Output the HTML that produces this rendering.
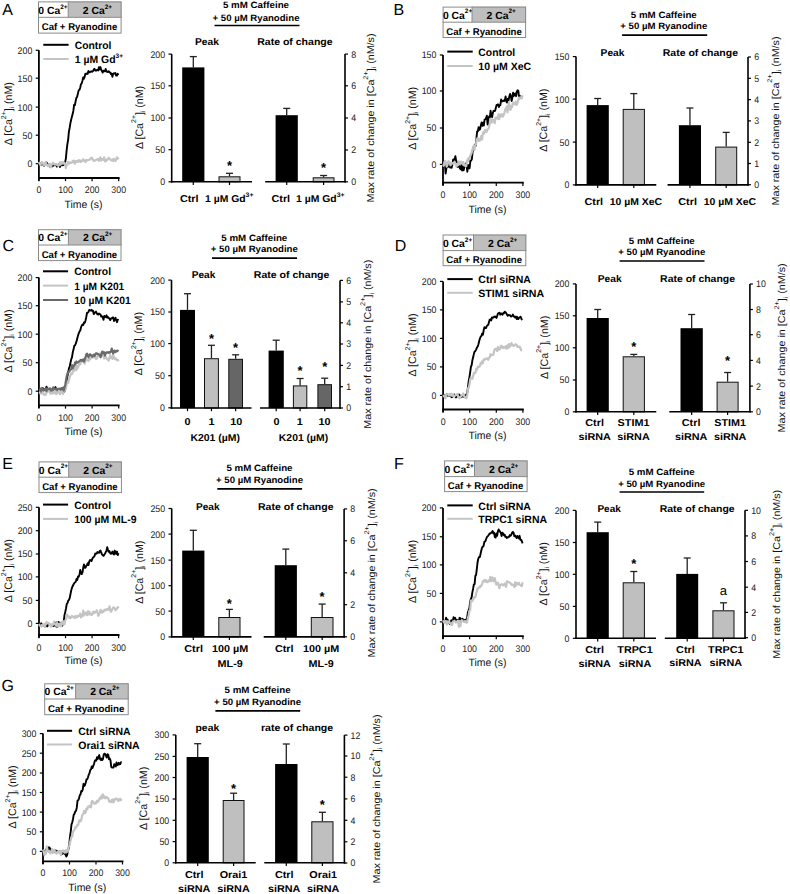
<!DOCTYPE html>
<html><head><meta charset="utf-8"><style>
html,body{margin:0;padding:0;background:#fff;}
svg{display:block;font-family:"Liberation Sans", sans-serif;text-rendering:geometricPrecision;}
</style></head><body>
<svg width="790" height="894" viewBox="0 0 790 894">
<rect width="790" height="894" fill="#fff"/>
<text x="2.20" y="14.60" font-size="16" font-weight="normal" text-anchor="start" fill="#000">A</text>
<rect x="38.00" y="1.40" width="83.60" height="32.20" fill="#fff"/>
<rect x="68.20" y="1.40" width="53.40" height="15.90" fill="#bebebe"/>
<rect x="38.50" y="1.90" width="82.60" height="31.20" fill="none" stroke="#8a8a8a" stroke-width="1"/>
<line x1="38.00" y1="17.30" x2="121.60" y2="17.30" stroke="#8a8a8a" stroke-width="1" stroke-linecap="butt"/>
<line x1="68.20" y1="1.40" x2="68.20" y2="17.30" stroke="#8a8a8a" stroke-width="1" stroke-linecap="butt"/>
<text x="38.30" y="13.70" font-size="10.4" font-weight="bold" text-anchor="start" fill="#000">0 Ca<tspan dy="-5.2" font-size="6.4">2+</tspan></text>
<text x="82.80" y="13.70" font-size="10.4" font-weight="bold" text-anchor="start" fill="#000">2 Ca<tspan dy="-5.2" font-size="6.4">2+</tspan></text>
<text x="79.50" y="30.30" font-size="9.8" font-weight="bold" text-anchor="middle" fill="#000" textLength="75.60" lengthAdjust="spacingAndGlyphs">Caf + Ryanodine</text>
<line x1="43.30" y1="44.80" x2="68.60" y2="44.80" stroke="#000" stroke-width="2.0" stroke-linecap="butt"/>
<text x="74.70" y="48.92" font-size="10.6" font-weight="bold" text-anchor="start" fill="#000" textLength="36.70" lengthAdjust="spacingAndGlyphs">Control</text>
<line x1="43.30" y1="59.00" x2="68.60" y2="59.00" stroke="#c4c4c4" stroke-width="2.0" stroke-linecap="butt"/>
<text x="74.70" y="63.12" font-size="10.6" font-weight="bold" text-anchor="start" fill="#000" textLength="48.30" lengthAdjust="spacingAndGlyphs">1 µM Gd<tspan dy="-4.8" font-size="6.6">3+</tspan></text>
<line x1="35.70" y1="50.30" x2="38.90" y2="50.30" stroke="#000" stroke-width="1.2" stroke-linecap="butt"/>
<text x="32.30" y="53.76" font-size="9.6" font-weight="normal" text-anchor="end" fill="#222" textLength="14.70" lengthAdjust="spacingAndGlyphs">200</text>
<line x1="35.70" y1="78.20" x2="38.90" y2="78.20" stroke="#000" stroke-width="1.2" stroke-linecap="butt"/>
<text x="32.30" y="81.66" font-size="9.6" font-weight="normal" text-anchor="end" fill="#222" textLength="14.70" lengthAdjust="spacingAndGlyphs">150</text>
<line x1="35.70" y1="107.10" x2="38.90" y2="107.10" stroke="#000" stroke-width="1.2" stroke-linecap="butt"/>
<text x="32.30" y="110.56" font-size="9.6" font-weight="normal" text-anchor="end" fill="#222" textLength="14.70" lengthAdjust="spacingAndGlyphs">100</text>
<line x1="35.70" y1="135.20" x2="38.90" y2="135.20" stroke="#000" stroke-width="1.2" stroke-linecap="butt"/>
<text x="32.30" y="138.66" font-size="9.6" font-weight="normal" text-anchor="end" fill="#222" textLength="9.80" lengthAdjust="spacingAndGlyphs">50</text>
<line x1="35.70" y1="163.70" x2="38.90" y2="163.70" stroke="#000" stroke-width="1.2" stroke-linecap="butt"/>
<text x="32.30" y="167.16" font-size="9.6" font-weight="normal" text-anchor="end" fill="#222" textLength="4.90" lengthAdjust="spacingAndGlyphs">0</text>
<line x1="38.90" y1="50.30" x2="38.90" y2="180.80" stroke="#000" stroke-width="1.8" stroke-linecap="butt"/>
<line x1="38.00" y1="178.00" x2="119.60" y2="178.00" stroke="#000" stroke-width="1.8" stroke-linecap="butt"/>
<line x1="38.90" y1="178.00" x2="38.90" y2="181.20" stroke="#000" stroke-width="1.2" stroke-linecap="butt"/>
<text x="38.90" y="193.16" font-size="9.6" font-weight="normal" text-anchor="middle" fill="#222" textLength="4.90" lengthAdjust="spacingAndGlyphs">0</text>
<line x1="65.50" y1="178.00" x2="65.50" y2="181.20" stroke="#000" stroke-width="1.2" stroke-linecap="butt"/>
<text x="65.50" y="193.16" font-size="9.6" font-weight="normal" text-anchor="middle" fill="#222" textLength="14.70" lengthAdjust="spacingAndGlyphs">100</text>
<line x1="92.10" y1="178.00" x2="92.10" y2="181.20" stroke="#000" stroke-width="1.2" stroke-linecap="butt"/>
<text x="92.10" y="193.16" font-size="9.6" font-weight="normal" text-anchor="middle" fill="#222" textLength="14.70" lengthAdjust="spacingAndGlyphs">200</text>
<line x1="118.70" y1="178.00" x2="118.70" y2="181.20" stroke="#000" stroke-width="1.2" stroke-linecap="butt"/>
<text x="118.70" y="193.16" font-size="9.6" font-weight="normal" text-anchor="middle" fill="#222" textLength="14.70" lengthAdjust="spacingAndGlyphs">300</text>
<text x="83.50" y="207.82" font-size="10.6" font-weight="normal" text-anchor="middle" fill="#111" textLength="38.00" lengthAdjust="spacingAndGlyphs">Time (s)</text>
<g transform="translate(12.10 113.65) rotate(-90)"><text x="0" y="0" font-size="10.8" text-anchor="middle" textLength="63.00" lengthAdjust="spacingAndGlyphs" fill="#111">Δ [Ca<tspan dy="-6.6" font-size="7.0">2+</tspan><tspan dy="6.6">]</tspan><tspan dy="2.2" font-size="6.4">i</tspan><tspan dy="-2.2"> (nM)</tspan></text></g>
<path d="M38.90,162.11 L39.65,163.53 L40.40,163.40 L41.15,163.21 L41.90,164.70 L42.65,164.19 L43.40,163.75 L44.15,165.83 L44.90,164.03 L45.65,162.83 L46.40,162.46 L47.15,163.29 L47.90,164.76 L48.65,165.38 L49.40,165.87 L50.15,166.76 L50.90,166.84 L51.65,165.77 L52.40,166.22 L53.15,165.64 L53.90,164.24 L54.65,165.33 L55.40,164.82 L56.15,164.41 L56.90,166.60 L57.65,165.88 L58.40,164.40 L59.15,164.45 L59.90,166.97 L60.65,164.85 L61.40,165.28 L62.15,165.21 L62.90,165.03 L63.65,165.00 L64.40,163.82 L65.15,162.15 L65.90,158.32 L66.65,150.09 L67.40,144.18 L68.15,139.57 L68.90,131.62 L69.65,127.94 L70.40,123.17 L71.15,119.72 L71.90,116.86 L72.65,114.08 L73.40,110.38 L74.15,104.75 L74.90,105.08 L75.65,100.99 L76.40,97.74 L77.15,96.82 L77.90,93.64 L78.65,90.37 L79.40,89.94 L80.15,88.00 L80.90,84.40 L81.65,83.44 L82.40,80.92 L83.15,77.45 L83.90,78.81 L84.65,76.66 L85.40,73.73 L86.15,74.04 L86.90,73.45 L87.65,73.77 L88.40,71.01 L89.15,72.40 L89.90,72.23 L90.65,71.63 L91.40,71.29 L92.15,71.78 L92.90,71.12 L93.65,70.18 L94.40,68.78 L95.15,70.35 L95.90,70.71 L96.65,70.12 L97.40,69.86 L98.15,70.43 L98.90,67.23 L99.65,69.43 L100.40,67.08 L101.15,69.52 L101.90,71.16 L102.65,72.61 L103.40,70.66 L104.15,71.28 L104.90,71.08 L105.65,68.95 L106.40,71.66 L107.15,71.73 L107.90,72.00 L108.65,71.17 L109.40,72.04 L110.15,72.53 L110.90,74.04 L111.65,73.53 L112.40,76.89 L113.15,73.80 L113.90,73.32 L114.65,73.56 L115.40,73.08 L116.15,75.62 L116.90,75.58 L117.65,73.80 L118.40,75.03" fill="none" stroke="#000" stroke-width="1.9" stroke-linejoin="round"/>
<path d="M38.90,162.06 L39.65,163.73 L40.40,164.96 L41.15,163.40 L41.90,162.01 L42.65,163.29 L43.40,164.32 L44.15,165.40 L44.90,162.78 L45.65,162.06 L46.40,164.43 L47.15,164.76 L47.90,166.21 L48.65,165.91 L49.40,164.50 L50.15,163.96 L50.90,167.44 L51.65,164.74 L52.40,163.47 L53.15,162.74 L53.90,164.15 L54.65,164.59 L55.40,164.07 L56.15,164.26 L56.90,164.70 L57.65,165.31 L58.40,165.95 L59.15,164.96 L59.90,162.17 L60.65,164.58 L61.40,162.48 L62.15,163.50 L62.90,162.09 L63.65,163.57 L64.40,162.92 L65.15,163.95 L65.90,167.93 L66.65,164.56 L67.40,164.69 L68.15,161.85 L68.90,162.31 L69.65,163.47 L70.40,162.67 L71.15,162.91 L71.90,162.49 L72.65,160.84 L73.40,162.26 L74.15,160.74 L74.90,163.60 L75.65,161.17 L76.40,161.93 L77.15,161.11 L77.90,161.96 L78.65,160.07 L79.40,161.57 L80.15,160.48 L80.90,161.89 L81.65,161.38 L82.40,160.58 L83.15,159.16 L83.90,160.70 L84.65,160.64 L85.40,162.05 L86.15,159.80 L86.90,160.35 L87.65,160.37 L88.40,160.03 L89.15,159.79 L89.90,159.64 L90.65,158.56 L91.40,157.70 L92.15,158.21 L92.90,159.52 L93.65,160.94 L94.40,160.56 L95.15,160.49 L95.90,160.06 L96.65,159.79 L97.40,159.01 L98.15,159.49 L98.90,160.81 L99.65,158.42 L100.40,157.30 L101.15,160.41 L101.90,159.09 L102.65,159.72 L103.40,159.81 L104.15,157.35 L104.90,161.28 L105.65,161.49 L106.40,159.57 L107.15,159.87 L107.90,159.21 L108.65,157.82 L109.40,158.49 L110.15,159.32 L110.90,160.51 L111.65,160.35 L112.40,159.54 L113.15,161.02 L113.90,158.77 L114.65,160.22 L115.40,161.03 L116.15,159.52 L116.90,157.30 L117.65,157.91 L118.40,159.55" fill="none" stroke="#c4c4c4" stroke-width="2.2" stroke-linejoin="round"/>
<text x="256.00" y="8.41" font-size="9.2" font-weight="bold" text-anchor="middle" fill="#000" textLength="66.00" lengthAdjust="spacingAndGlyphs">5 mM Caffeine</text>
<text x="256.00" y="20.51" font-size="9.2" font-weight="bold" text-anchor="middle" fill="#000" textLength="87.00" lengthAdjust="spacingAndGlyphs">+ 50 µM Ryanodine</text>
<line x1="214.50" y1="25.50" x2="299.50" y2="25.50" stroke="#000" stroke-width="1.7" stroke-linecap="butt"/>
<text x="206.95" y="44.93" font-size="9.8" font-weight="bold" text-anchor="middle" fill="#000" textLength="23.90" lengthAdjust="spacingAndGlyphs">Peak</text>
<text x="294.90" y="44.53" font-size="9.8" font-weight="bold" text-anchor="middle" fill="#000" textLength="75.40" lengthAdjust="spacingAndGlyphs">Rate of change</text>
<line x1="168.50" y1="54.10" x2="171.70" y2="54.10" stroke="#000" stroke-width="1.2" stroke-linecap="butt"/>
<text x="165.10" y="57.56" font-size="9.6" font-weight="normal" text-anchor="end" fill="#222" textLength="14.70" lengthAdjust="spacingAndGlyphs">200</text>
<line x1="168.50" y1="85.80" x2="171.70" y2="85.80" stroke="#000" stroke-width="1.2" stroke-linecap="butt"/>
<text x="165.10" y="89.26" font-size="9.6" font-weight="normal" text-anchor="end" fill="#222" textLength="14.70" lengthAdjust="spacingAndGlyphs">150</text>
<line x1="168.50" y1="118.00" x2="171.70" y2="118.00" stroke="#000" stroke-width="1.2" stroke-linecap="butt"/>
<text x="165.10" y="121.46" font-size="9.6" font-weight="normal" text-anchor="end" fill="#222" textLength="14.70" lengthAdjust="spacingAndGlyphs">100</text>
<line x1="168.50" y1="149.70" x2="171.70" y2="149.70" stroke="#000" stroke-width="1.2" stroke-linecap="butt"/>
<text x="165.10" y="153.16" font-size="9.6" font-weight="normal" text-anchor="end" fill="#222" textLength="9.80" lengthAdjust="spacingAndGlyphs">50</text>
<line x1="168.50" y1="181.80" x2="171.70" y2="181.80" stroke="#000" stroke-width="1.2" stroke-linecap="butt"/>
<text x="165.10" y="185.26" font-size="9.6" font-weight="normal" text-anchor="end" fill="#222" textLength="4.90" lengthAdjust="spacingAndGlyphs">0</text>
<line x1="193.30" y1="56.60" x2="193.30" y2="67.40" stroke="#222" stroke-width="1.3" stroke-linecap="butt"/>
<line x1="189.80" y1="56.60" x2="196.80" y2="56.60" stroke="#222" stroke-width="1.3" stroke-linecap="butt"/>
<rect x="182.20" y="67.40" width="22.20" height="114.40" fill="#000"/>
<line x1="193.30" y1="181.80" x2="193.30" y2="185.00" stroke="#000" stroke-width="1.2" stroke-linecap="butt"/>
<line x1="229.50" y1="173.30" x2="229.50" y2="176.30" stroke="#222" stroke-width="1.3" stroke-linecap="butt"/>
<line x1="226.00" y1="173.30" x2="233.00" y2="173.30" stroke="#222" stroke-width="1.3" stroke-linecap="butt"/>
<rect x="219.00" y="176.80" width="21.00" height="5.00" fill="#bfbfbf" stroke="#111" stroke-width="1"/>
<text x="229.50" y="169.58" font-size="13" font-weight="bold" text-anchor="middle" fill="#000">*</text>
<line x1="229.50" y1="181.80" x2="229.50" y2="185.00" stroke="#000" stroke-width="1.2" stroke-linecap="butt"/>
<line x1="171.70" y1="54.10" x2="171.70" y2="182.60" stroke="#000" stroke-width="1.6" stroke-linecap="butt"/>
<line x1="170.90" y1="181.80" x2="252.00" y2="181.80" stroke="#000" stroke-width="1.6" stroke-linecap="butt"/>
<line x1="345.00" y1="54.10" x2="348.00" y2="54.10" stroke="#000" stroke-width="1.2" stroke-linecap="butt"/>
<text x="351.20" y="57.56" font-size="9.6" font-weight="normal" text-anchor="start" fill="#222" textLength="4.90" lengthAdjust="spacingAndGlyphs">8</text>
<line x1="345.00" y1="85.80" x2="348.00" y2="85.80" stroke="#000" stroke-width="1.2" stroke-linecap="butt"/>
<text x="351.20" y="89.26" font-size="9.6" font-weight="normal" text-anchor="start" fill="#222" textLength="4.90" lengthAdjust="spacingAndGlyphs">6</text>
<line x1="345.00" y1="118.00" x2="348.00" y2="118.00" stroke="#000" stroke-width="1.2" stroke-linecap="butt"/>
<text x="351.20" y="121.46" font-size="9.6" font-weight="normal" text-anchor="start" fill="#222" textLength="4.90" lengthAdjust="spacingAndGlyphs">4</text>
<line x1="345.00" y1="150.00" x2="348.00" y2="150.00" stroke="#000" stroke-width="1.2" stroke-linecap="butt"/>
<text x="351.20" y="153.46" font-size="9.6" font-weight="normal" text-anchor="start" fill="#222" textLength="4.90" lengthAdjust="spacingAndGlyphs">2</text>
<line x1="345.00" y1="181.80" x2="348.00" y2="181.80" stroke="#000" stroke-width="1.2" stroke-linecap="butt"/>
<text x="351.20" y="185.26" font-size="9.6" font-weight="normal" text-anchor="start" fill="#222" textLength="4.90" lengthAdjust="spacingAndGlyphs">0</text>
<line x1="286.70" y1="108.40" x2="286.70" y2="115.20" stroke="#222" stroke-width="1.3" stroke-linecap="butt"/>
<line x1="283.20" y1="108.40" x2="290.20" y2="108.40" stroke="#222" stroke-width="1.3" stroke-linecap="butt"/>
<rect x="275.60" y="115.20" width="22.20" height="66.60" fill="#000"/>
<line x1="286.70" y1="181.80" x2="286.70" y2="185.00" stroke="#000" stroke-width="1.2" stroke-linecap="butt"/>
<line x1="323.60" y1="175.50" x2="323.60" y2="177.30" stroke="#222" stroke-width="1.3" stroke-linecap="butt"/>
<line x1="320.10" y1="175.50" x2="327.10" y2="175.50" stroke="#222" stroke-width="1.3" stroke-linecap="butt"/>
<rect x="313.20" y="177.80" width="20.80" height="4.00" fill="#bfbfbf" stroke="#111" stroke-width="1"/>
<text x="323.60" y="172.38" font-size="13" font-weight="bold" text-anchor="middle" fill="#000">*</text>
<line x1="323.60" y1="181.80" x2="323.60" y2="185.00" stroke="#000" stroke-width="1.2" stroke-linecap="butt"/>
<line x1="345.00" y1="54.10" x2="345.00" y2="182.60" stroke="#000" stroke-width="1.6" stroke-linecap="butt"/>
<line x1="265.20" y1="181.80" x2="345.80" y2="181.80" stroke="#000" stroke-width="1.6" stroke-linecap="butt"/>
<text x="189.20" y="201.60" font-size="10" font-weight="bold" text-anchor="middle" fill="#000" textLength="18.60" lengthAdjust="spacingAndGlyphs">Ctrl</text>
<text x="229.20" y="201.60" font-size="10" font-weight="bold" text-anchor="middle" fill="#000" textLength="48.40" lengthAdjust="spacingAndGlyphs">1 µM Gd<tspan dy="-4.8" font-size="6.6">3+</tspan></text>
<text x="280.80" y="201.60" font-size="10" font-weight="bold" text-anchor="middle" fill="#000" textLength="18.60" lengthAdjust="spacingAndGlyphs">Ctrl</text>
<text x="320.30" y="201.60" font-size="10" font-weight="bold" text-anchor="middle" fill="#000" textLength="48.40" lengthAdjust="spacingAndGlyphs">1 µM Gd<tspan dy="-4.8" font-size="6.6">3+</tspan></text>
<g transform="translate(142.80 117.45) rotate(-90)"><text x="0" y="0" font-size="10.8" text-anchor="middle" textLength="63.20" lengthAdjust="spacingAndGlyphs" fill="#111">Δ [Ca<tspan dy="-6.6" font-size="7.0">2+</tspan><tspan dy="6.6">]</tspan><tspan dy="2.2" font-size="6.4">i</tspan><tspan dy="-2.2"> (nM)</tspan></text></g>
<g transform="translate(374.10 117.95) rotate(-90)"><text x="0" y="0" font-size="10.0" text-anchor="middle" textLength="169.00" lengthAdjust="spacingAndGlyphs" fill="#111">Max rate of change in [Ca<tspan dy="-6.4" font-size="6.8">2+</tspan><tspan dy="6.4">]</tspan><tspan dy="2.2" font-size="6.4">i</tspan><tspan dy="-2.2"> (nM/s)</tspan></text></g>
<text x="393.60" y="14.60" font-size="16" font-weight="normal" text-anchor="start" fill="#000">B</text>
<rect x="442.60" y="6.60" width="83.50" height="31.40" fill="#fff"/>
<rect x="472.00" y="6.60" width="54.10" height="15.60" fill="#bebebe"/>
<rect x="443.10" y="7.10" width="82.50" height="30.40" fill="none" stroke="#8a8a8a" stroke-width="1"/>
<line x1="442.60" y1="22.20" x2="526.10" y2="22.20" stroke="#8a8a8a" stroke-width="1" stroke-linecap="butt"/>
<line x1="472.00" y1="6.60" x2="472.00" y2="22.20" stroke="#8a8a8a" stroke-width="1" stroke-linecap="butt"/>
<text x="442.90" y="18.60" font-size="10.4" font-weight="bold" text-anchor="start" fill="#000">0 Ca<tspan dy="-5.2" font-size="6.4">2+</tspan></text>
<text x="486.60" y="18.60" font-size="10.4" font-weight="bold" text-anchor="start" fill="#000">2 Ca<tspan dy="-5.2" font-size="6.4">2+</tspan></text>
<text x="484.05" y="34.70" font-size="9.8" font-weight="bold" text-anchor="middle" fill="#000" textLength="75.50" lengthAdjust="spacingAndGlyphs">Caf + Ryanodine</text>
<line x1="447.30" y1="51.60" x2="472.70" y2="51.60" stroke="#000" stroke-width="2.0" stroke-linecap="butt"/>
<text x="478.30" y="55.72" font-size="10.6" font-weight="bold" text-anchor="start" fill="#000" textLength="36.90" lengthAdjust="spacingAndGlyphs">Control</text>
<line x1="447.30" y1="66.00" x2="472.70" y2="66.00" stroke="#c4c4c4" stroke-width="2.0" stroke-linecap="butt"/>
<text x="478.30" y="70.12" font-size="10.6" font-weight="bold" text-anchor="start" fill="#000" textLength="52.90" lengthAdjust="spacingAndGlyphs">10 µM XeC</text>
<line x1="439.80" y1="55.00" x2="443.00" y2="55.00" stroke="#000" stroke-width="1.2" stroke-linecap="butt"/>
<text x="436.40" y="58.46" font-size="9.6" font-weight="normal" text-anchor="end" fill="#222" textLength="14.70" lengthAdjust="spacingAndGlyphs">150</text>
<line x1="439.80" y1="91.00" x2="443.00" y2="91.00" stroke="#000" stroke-width="1.2" stroke-linecap="butt"/>
<text x="436.40" y="94.46" font-size="9.6" font-weight="normal" text-anchor="end" fill="#222" textLength="14.70" lengthAdjust="spacingAndGlyphs">100</text>
<line x1="439.80" y1="128.00" x2="443.00" y2="128.00" stroke="#000" stroke-width="1.2" stroke-linecap="butt"/>
<text x="436.40" y="131.46" font-size="9.6" font-weight="normal" text-anchor="end" fill="#222" textLength="9.80" lengthAdjust="spacingAndGlyphs">50</text>
<line x1="439.80" y1="164.40" x2="443.00" y2="164.40" stroke="#000" stroke-width="1.2" stroke-linecap="butt"/>
<text x="436.40" y="167.86" font-size="9.6" font-weight="normal" text-anchor="end" fill="#222" textLength="4.90" lengthAdjust="spacingAndGlyphs">0</text>
<line x1="443.00" y1="55.00" x2="443.00" y2="185.50" stroke="#000" stroke-width="1.8" stroke-linecap="butt"/>
<line x1="442.10" y1="182.70" x2="523.80" y2="182.70" stroke="#000" stroke-width="1.8" stroke-linecap="butt"/>
<line x1="443.00" y1="182.70" x2="443.00" y2="185.90" stroke="#000" stroke-width="1.2" stroke-linecap="butt"/>
<text x="443.00" y="197.86" font-size="9.6" font-weight="normal" text-anchor="middle" fill="#222" textLength="4.90" lengthAdjust="spacingAndGlyphs">0</text>
<line x1="469.63" y1="182.70" x2="469.63" y2="185.90" stroke="#000" stroke-width="1.2" stroke-linecap="butt"/>
<text x="469.63" y="197.86" font-size="9.6" font-weight="normal" text-anchor="middle" fill="#222" textLength="14.70" lengthAdjust="spacingAndGlyphs">100</text>
<line x1="496.27" y1="182.70" x2="496.27" y2="185.90" stroke="#000" stroke-width="1.2" stroke-linecap="butt"/>
<text x="496.27" y="197.86" font-size="9.6" font-weight="normal" text-anchor="middle" fill="#222" textLength="14.70" lengthAdjust="spacingAndGlyphs">200</text>
<line x1="522.90" y1="182.70" x2="522.90" y2="185.90" stroke="#000" stroke-width="1.2" stroke-linecap="butt"/>
<text x="522.90" y="197.86" font-size="9.6" font-weight="normal" text-anchor="middle" fill="#222" textLength="14.70" lengthAdjust="spacingAndGlyphs">300</text>
<text x="487.50" y="212.52" font-size="10.6" font-weight="normal" text-anchor="middle" fill="#111" textLength="38.00" lengthAdjust="spacingAndGlyphs">Time (s)</text>
<g transform="translate(416.20 118.35) rotate(-90)"><text x="0" y="0" font-size="10.8" text-anchor="middle" textLength="63.00" lengthAdjust="spacingAndGlyphs" fill="#111">Δ [Ca<tspan dy="-6.6" font-size="7.0">2+</tspan><tspan dy="6.6">]</tspan><tspan dy="2.2" font-size="6.4">i</tspan><tspan dy="-2.2"> (nM)</tspan></text></g>
<path d="M444.10,165.04 L444.85,164.05 L445.60,173.53 L446.35,168.45 L447.10,166.62 L447.85,167.11 L448.60,164.98 L449.35,164.19 L450.10,167.58 L450.85,165.62 L451.60,167.79 L452.35,165.11 L453.10,159.75 L453.85,159.13 L454.60,159.67 L455.35,156.28 L456.10,160.72 L456.85,162.40 L457.60,166.94 L458.35,164.16 L459.10,165.86 L459.85,168.23 L460.60,169.30 L461.35,164.94 L462.10,170.64 L462.85,166.42 L463.60,170.24 L464.35,167.27 L465.10,166.26 L465.85,163.42 L466.60,165.11 L467.35,171.71 L468.10,164.84 L468.85,168.39 L469.60,168.23 L470.35,160.80 L471.10,160.69 L471.85,159.13 L472.60,152.01 L473.35,147.45 L474.10,148.51 L474.85,144.59 L475.60,146.01 L476.35,139.61 L477.10,131.52 L477.85,131.45 L478.60,127.12 L479.35,129.87 L480.10,129.13 L480.85,125.31 L481.60,122.49 L482.35,125.86 L483.10,122.66 L483.85,125.46 L484.60,119.64 L485.35,119.41 L486.10,117.97 L486.85,115.67 L487.60,124.53 L488.35,123.41 L489.10,116.42 L489.85,117.88 L490.60,110.79 L491.35,116.55 L492.10,116.98 L492.85,112.72 L493.60,110.79 L494.35,111.06 L495.10,110.86 L495.85,107.81 L496.60,104.93 L497.35,104.99 L498.10,104.32 L498.85,106.99 L499.60,105.44 L500.35,105.07 L501.10,99.55 L501.85,101.20 L502.60,101.21 L503.35,100.50 L504.10,101.01 L504.85,100.28 L505.60,96.47 L506.35,101.69 L507.10,102.57 L507.85,98.60 L508.60,100.27 L509.35,96.18 L510.10,93.93 L510.85,95.99 L511.60,100.95 L512.35,97.56 L513.10,92.70 L513.85,95.96 L514.60,94.39 L515.35,93.38 L516.10,96.18 L516.85,91.43 L517.60,90.24 L518.35,90.95 L519.10,98.01 L519.85,97.27 L520.60,95.34" fill="none" stroke="#000" stroke-width="1.9" stroke-linejoin="round"/>
<path d="M443.00,164.21 L443.75,165.81 L444.50,161.99 L445.25,160.89 L446.00,163.23 L446.75,166.69 L447.50,164.91 L448.25,161.33 L449.00,161.30 L449.75,162.83 L450.50,165.32 L451.25,164.05 L452.00,163.08 L452.75,163.14 L453.50,163.85 L454.25,162.09 L455.00,163.08 L455.75,163.79 L456.50,166.68 L457.25,163.87 L458.00,165.17 L458.75,161.37 L459.50,164.17 L460.25,163.37 L461.00,161.68 L461.75,162.22 L462.50,164.15 L463.25,162.07 L464.00,164.21 L464.75,165.67 L465.50,166.16 L466.25,166.20 L467.00,160.27 L467.75,161.42 L468.50,158.04 L469.25,159.18 L470.00,156.38 L470.75,154.67 L471.50,153.43 L472.25,149.68 L473.00,148.84 L473.75,145.67 L474.50,149.86 L475.25,145.04 L476.00,144.05 L476.75,139.44 L477.50,138.12 L478.25,138.35 L479.00,140.97 L479.75,140.83 L480.50,139.05 L481.25,135.99 L482.00,139.54 L482.75,133.84 L483.50,132.01 L484.25,133.53 L485.00,130.15 L485.75,131.13 L486.50,132.05 L487.25,129.50 L488.00,129.17 L488.75,127.67 L489.50,125.17 L490.25,118.80 L491.00,120.51 L491.75,122.73 L492.50,119.29 L493.25,120.00 L494.00,121.21 L494.75,123.24 L495.50,117.69 L496.25,117.44 L497.00,118.36 L497.75,118.64 L498.50,114.26 L499.25,119.20 L500.00,114.52 L500.75,116.78 L501.50,114.25 L502.25,114.39 L503.00,116.53 L503.75,114.65 L504.50,112.53 L505.25,109.22 L506.00,108.64 L506.75,106.45 L507.50,112.47 L508.25,106.21 L509.00,102.09 L509.75,109.22 L510.50,109.79 L511.25,106.12 L512.00,107.18 L512.75,103.59 L513.50,102.73 L514.25,104.25 L515.00,103.95 L515.75,101.66 L516.50,104.88 L517.25,103.41 L518.00,101.35 L518.75,97.63 L519.50,98.80 L520.25,97.59 L521.00,97.20 L521.75,98.33 L522.50,95.21" fill="none" stroke="#c4c4c4" stroke-width="2.2" stroke-linejoin="round"/>
<text x="663.80" y="17.51" font-size="9.2" font-weight="bold" text-anchor="middle" fill="#000" textLength="66.00" lengthAdjust="spacingAndGlyphs">5 mM Caffeine</text>
<text x="663.80" y="29.01" font-size="9.2" font-weight="bold" text-anchor="middle" fill="#000" textLength="87.00" lengthAdjust="spacingAndGlyphs">+ 50 µM Ryanodine</text>
<line x1="622.10" y1="35.20" x2="707.20" y2="35.20" stroke="#000" stroke-width="1.7" stroke-linecap="butt"/>
<text x="612.50" y="55.73" font-size="9.8" font-weight="bold" text-anchor="middle" fill="#000" textLength="23.80" lengthAdjust="spacingAndGlyphs">Peak</text>
<text x="700.40" y="55.83" font-size="9.8" font-weight="bold" text-anchor="middle" fill="#000" textLength="75.20" lengthAdjust="spacingAndGlyphs">Rate of change</text>
<line x1="572.80" y1="56.60" x2="576.00" y2="56.60" stroke="#000" stroke-width="1.2" stroke-linecap="butt"/>
<text x="569.40" y="60.06" font-size="9.6" font-weight="normal" text-anchor="end" fill="#222" textLength="14.70" lengthAdjust="spacingAndGlyphs">150</text>
<line x1="572.80" y1="99.10" x2="576.00" y2="99.10" stroke="#000" stroke-width="1.2" stroke-linecap="butt"/>
<text x="569.40" y="102.56" font-size="9.6" font-weight="normal" text-anchor="end" fill="#222" textLength="14.70" lengthAdjust="spacingAndGlyphs">100</text>
<line x1="572.80" y1="142.10" x2="576.00" y2="142.10" stroke="#000" stroke-width="1.2" stroke-linecap="butt"/>
<text x="569.40" y="145.56" font-size="9.6" font-weight="normal" text-anchor="end" fill="#222" textLength="9.80" lengthAdjust="spacingAndGlyphs">50</text>
<line x1="572.80" y1="184.90" x2="576.00" y2="184.90" stroke="#000" stroke-width="1.2" stroke-linecap="butt"/>
<text x="569.40" y="188.36" font-size="9.6" font-weight="normal" text-anchor="end" fill="#222" textLength="4.90" lengthAdjust="spacingAndGlyphs">0</text>
<line x1="597.70" y1="98.50" x2="597.70" y2="105.10" stroke="#222" stroke-width="1.3" stroke-linecap="butt"/>
<line x1="594.20" y1="98.50" x2="601.20" y2="98.50" stroke="#222" stroke-width="1.3" stroke-linecap="butt"/>
<rect x="586.60" y="105.10" width="22.20" height="79.80" fill="#000"/>
<line x1="597.70" y1="184.90" x2="597.70" y2="188.10" stroke="#000" stroke-width="1.2" stroke-linecap="butt"/>
<line x1="633.80" y1="93.60" x2="633.80" y2="108.90" stroke="#222" stroke-width="1.3" stroke-linecap="butt"/>
<line x1="630.30" y1="93.60" x2="637.30" y2="93.60" stroke="#222" stroke-width="1.3" stroke-linecap="butt"/>
<rect x="623.20" y="109.40" width="21.20" height="75.50" fill="#bfbfbf" stroke="#111" stroke-width="1"/>
<line x1="633.80" y1="184.90" x2="633.80" y2="188.10" stroke="#000" stroke-width="1.2" stroke-linecap="butt"/>
<line x1="576.00" y1="56.60" x2="576.00" y2="185.70" stroke="#000" stroke-width="1.6" stroke-linecap="butt"/>
<line x1="575.20" y1="184.90" x2="656.30" y2="184.90" stroke="#000" stroke-width="1.6" stroke-linecap="butt"/>
<line x1="748.00" y1="57.00" x2="751.00" y2="57.00" stroke="#000" stroke-width="1.2" stroke-linecap="butt"/>
<text x="754.20" y="60.46" font-size="9.6" font-weight="normal" text-anchor="start" fill="#222" textLength="4.90" lengthAdjust="spacingAndGlyphs">6</text>
<line x1="748.00" y1="78.30" x2="751.00" y2="78.30" stroke="#000" stroke-width="1.2" stroke-linecap="butt"/>
<text x="754.20" y="81.76" font-size="9.6" font-weight="normal" text-anchor="start" fill="#222" textLength="4.90" lengthAdjust="spacingAndGlyphs">5</text>
<line x1="748.00" y1="99.60" x2="751.00" y2="99.60" stroke="#000" stroke-width="1.2" stroke-linecap="butt"/>
<text x="754.20" y="103.06" font-size="9.6" font-weight="normal" text-anchor="start" fill="#222" textLength="4.90" lengthAdjust="spacingAndGlyphs">4</text>
<line x1="748.00" y1="120.90" x2="751.00" y2="120.90" stroke="#000" stroke-width="1.2" stroke-linecap="butt"/>
<text x="754.20" y="124.36" font-size="9.6" font-weight="normal" text-anchor="start" fill="#222" textLength="4.90" lengthAdjust="spacingAndGlyphs">3</text>
<line x1="748.00" y1="142.30" x2="751.00" y2="142.30" stroke="#000" stroke-width="1.2" stroke-linecap="butt"/>
<text x="754.20" y="145.76" font-size="9.6" font-weight="normal" text-anchor="start" fill="#222" textLength="4.90" lengthAdjust="spacingAndGlyphs">2</text>
<line x1="748.00" y1="163.50" x2="751.00" y2="163.50" stroke="#000" stroke-width="1.2" stroke-linecap="butt"/>
<text x="754.20" y="166.96" font-size="9.6" font-weight="normal" text-anchor="start" fill="#222" textLength="4.90" lengthAdjust="spacingAndGlyphs">1</text>
<line x1="748.00" y1="184.70" x2="751.00" y2="184.70" stroke="#000" stroke-width="1.2" stroke-linecap="butt"/>
<text x="754.20" y="188.16" font-size="9.6" font-weight="normal" text-anchor="start" fill="#222" textLength="4.90" lengthAdjust="spacingAndGlyphs">0</text>
<line x1="689.95" y1="108.00" x2="689.95" y2="125.20" stroke="#222" stroke-width="1.3" stroke-linecap="butt"/>
<line x1="686.45" y1="108.00" x2="693.45" y2="108.00" stroke="#222" stroke-width="1.3" stroke-linecap="butt"/>
<rect x="678.90" y="125.20" width="22.10" height="59.70" fill="#000"/>
<line x1="689.95" y1="184.90" x2="689.95" y2="188.10" stroke="#000" stroke-width="1.2" stroke-linecap="butt"/>
<line x1="726.20" y1="132.40" x2="726.20" y2="146.60" stroke="#222" stroke-width="1.3" stroke-linecap="butt"/>
<line x1="722.70" y1="132.40" x2="729.70" y2="132.40" stroke="#222" stroke-width="1.3" stroke-linecap="butt"/>
<rect x="715.70" y="147.10" width="21.00" height="37.80" fill="#bfbfbf" stroke="#111" stroke-width="1"/>
<line x1="726.20" y1="184.90" x2="726.20" y2="188.10" stroke="#000" stroke-width="1.2" stroke-linecap="butt"/>
<line x1="748.00" y1="57.00" x2="748.00" y2="185.70" stroke="#000" stroke-width="1.6" stroke-linecap="butt"/>
<line x1="667.60" y1="184.90" x2="748.80" y2="184.90" stroke="#000" stroke-width="1.6" stroke-linecap="butt"/>
<text x="593.80" y="205.20" font-size="10" font-weight="bold" text-anchor="middle" fill="#000" textLength="18.60" lengthAdjust="spacingAndGlyphs">Ctrl</text>
<text x="635.90" y="205.20" font-size="10" font-weight="bold" text-anchor="middle" fill="#000" textLength="52.30" lengthAdjust="spacingAndGlyphs">10 µM XeC</text>
<text x="687.60" y="205.20" font-size="10" font-weight="bold" text-anchor="middle" fill="#000" textLength="18.60" lengthAdjust="spacingAndGlyphs">Ctrl</text>
<text x="729.90" y="205.20" font-size="10" font-weight="bold" text-anchor="middle" fill="#000" textLength="52.30" lengthAdjust="spacingAndGlyphs">10 µM XeC</text>
<g transform="translate(547.40 120.25) rotate(-90)"><text x="0" y="0" font-size="10.8" text-anchor="middle" textLength="63.20" lengthAdjust="spacingAndGlyphs" fill="#111">Δ [Ca<tspan dy="-6.6" font-size="7.0">2+</tspan><tspan dy="6.6">]</tspan><tspan dy="2.2" font-size="6.4">i</tspan><tspan dy="-2.2"> (nM)</tspan></text></g>
<g transform="translate(778.60 120.95) rotate(-90)"><text x="0" y="0" font-size="10.0" text-anchor="middle" textLength="169.00" lengthAdjust="spacingAndGlyphs" fill="#111">Max rate of change in [Ca<tspan dy="-6.4" font-size="6.8">2+</tspan><tspan dy="6.4">]</tspan><tspan dy="2.2" font-size="6.4">i</tspan><tspan dy="-2.2"> (nM/s)</tspan></text></g>
<text x="2.60" y="250.60" font-size="16" font-weight="normal" text-anchor="start" fill="#000">C</text>
<rect x="38.00" y="229.20" width="83.50" height="31.90" fill="#fff"/>
<rect x="68.40" y="229.20" width="53.10" height="15.80" fill="#bebebe"/>
<rect x="38.50" y="229.70" width="82.50" height="30.90" fill="none" stroke="#8a8a8a" stroke-width="1"/>
<line x1="38.00" y1="245.00" x2="121.50" y2="245.00" stroke="#8a8a8a" stroke-width="1" stroke-linecap="butt"/>
<line x1="68.40" y1="229.20" x2="68.40" y2="245.00" stroke="#8a8a8a" stroke-width="1" stroke-linecap="butt"/>
<text x="38.30" y="241.40" font-size="10.4" font-weight="bold" text-anchor="start" fill="#000">0 Ca<tspan dy="-5.2" font-size="6.4">2+</tspan></text>
<text x="83.00" y="241.40" font-size="10.4" font-weight="bold" text-anchor="start" fill="#000">2 Ca<tspan dy="-5.2" font-size="6.4">2+</tspan></text>
<text x="79.45" y="257.80" font-size="9.8" font-weight="bold" text-anchor="middle" fill="#000" textLength="75.50" lengthAdjust="spacingAndGlyphs">Caf + Ryanodine</text>
<line x1="43.00" y1="271.30" x2="68.10" y2="271.30" stroke="#000" stroke-width="2.0" stroke-linecap="butt"/>
<text x="74.20" y="275.42" font-size="10.6" font-weight="bold" text-anchor="start" fill="#000" textLength="36.90" lengthAdjust="spacingAndGlyphs">Control</text>
<line x1="43.00" y1="285.60" x2="68.10" y2="285.60" stroke="#c4c4c4" stroke-width="2.0" stroke-linecap="butt"/>
<text x="74.20" y="289.72" font-size="10.6" font-weight="bold" text-anchor="start" fill="#000" textLength="50.10" lengthAdjust="spacingAndGlyphs">1 µM K201</text>
<line x1="43.00" y1="300.00" x2="68.10" y2="300.00" stroke="#6a6a6a" stroke-width="2.0" stroke-linecap="butt"/>
<text x="74.20" y="304.12" font-size="10.6" font-weight="bold" text-anchor="start" fill="#000" textLength="56.70" lengthAdjust="spacingAndGlyphs">10 µM K201</text>
<line x1="35.70" y1="277.60" x2="38.90" y2="277.60" stroke="#000" stroke-width="1.2" stroke-linecap="butt"/>
<text x="32.30" y="281.06" font-size="9.6" font-weight="normal" text-anchor="end" fill="#222" textLength="14.70" lengthAdjust="spacingAndGlyphs">200</text>
<line x1="35.70" y1="305.70" x2="38.90" y2="305.70" stroke="#000" stroke-width="1.2" stroke-linecap="butt"/>
<text x="32.30" y="309.16" font-size="9.6" font-weight="normal" text-anchor="end" fill="#222" textLength="14.70" lengthAdjust="spacingAndGlyphs">150</text>
<line x1="35.70" y1="334.20" x2="38.90" y2="334.20" stroke="#000" stroke-width="1.2" stroke-linecap="butt"/>
<text x="32.30" y="337.66" font-size="9.6" font-weight="normal" text-anchor="end" fill="#222" textLength="14.70" lengthAdjust="spacingAndGlyphs">100</text>
<line x1="35.70" y1="362.70" x2="38.90" y2="362.70" stroke="#000" stroke-width="1.2" stroke-linecap="butt"/>
<text x="32.30" y="366.16" font-size="9.6" font-weight="normal" text-anchor="end" fill="#222" textLength="9.80" lengthAdjust="spacingAndGlyphs">50</text>
<line x1="35.70" y1="391.20" x2="38.90" y2="391.20" stroke="#000" stroke-width="1.2" stroke-linecap="butt"/>
<text x="32.30" y="394.66" font-size="9.6" font-weight="normal" text-anchor="end" fill="#222" textLength="4.90" lengthAdjust="spacingAndGlyphs">0</text>
<line x1="38.90" y1="277.60" x2="38.90" y2="408.20" stroke="#000" stroke-width="1.8" stroke-linecap="butt"/>
<line x1="38.00" y1="405.40" x2="119.60" y2="405.40" stroke="#000" stroke-width="1.8" stroke-linecap="butt"/>
<line x1="38.90" y1="405.40" x2="38.90" y2="408.60" stroke="#000" stroke-width="1.2" stroke-linecap="butt"/>
<text x="38.90" y="420.86" font-size="9.6" font-weight="normal" text-anchor="middle" fill="#222" textLength="4.90" lengthAdjust="spacingAndGlyphs">0</text>
<line x1="65.50" y1="405.40" x2="65.50" y2="408.60" stroke="#000" stroke-width="1.2" stroke-linecap="butt"/>
<text x="65.50" y="420.86" font-size="9.6" font-weight="normal" text-anchor="middle" fill="#222" textLength="14.70" lengthAdjust="spacingAndGlyphs">100</text>
<line x1="92.10" y1="405.40" x2="92.10" y2="408.60" stroke="#000" stroke-width="1.2" stroke-linecap="butt"/>
<text x="92.10" y="420.86" font-size="9.6" font-weight="normal" text-anchor="middle" fill="#222" textLength="14.70" lengthAdjust="spacingAndGlyphs">200</text>
<line x1="118.70" y1="405.40" x2="118.70" y2="408.60" stroke="#000" stroke-width="1.2" stroke-linecap="butt"/>
<text x="118.70" y="420.86" font-size="9.6" font-weight="normal" text-anchor="middle" fill="#222" textLength="14.70" lengthAdjust="spacingAndGlyphs">300</text>
<text x="83.50" y="434.82" font-size="10.6" font-weight="normal" text-anchor="middle" fill="#111" textLength="38.00" lengthAdjust="spacingAndGlyphs">Time (s)</text>
<g transform="translate(12.10 341.00) rotate(-90)"><text x="0" y="0" font-size="10.8" text-anchor="middle" textLength="63.00" lengthAdjust="spacingAndGlyphs" fill="#111">Δ [Ca<tspan dy="-6.6" font-size="7.0">2+</tspan><tspan dy="6.6">]</tspan><tspan dy="2.2" font-size="6.4">i</tspan><tspan dy="-2.2"> (nM)</tspan></text></g>
<path d="M39.00,389.13 L39.75,389.48 L40.50,390.61 L41.25,389.63 L42.00,388.79 L42.75,387.96 L43.50,390.31 L44.25,389.84 L45.00,389.16 L45.75,388.58 L46.50,386.70 L47.25,389.12 L48.00,388.52 L48.75,389.34 L49.50,391.26 L50.25,389.60 L51.00,389.40 L51.75,390.56 L52.50,389.49 L53.25,389.58 L54.00,388.08 L54.75,387.96 L55.50,387.12 L56.25,389.89 L57.00,390.89 L57.75,389.18 L58.50,389.15 L59.25,388.85 L60.00,392.31 L60.75,391.26 L61.50,389.71 L62.25,390.27 L63.00,391.15 L63.75,388.77 L64.50,391.47 L65.25,389.33 L66.00,383.72 L66.75,379.42 L67.50,376.11 L68.25,371.86 L69.00,368.06 L69.75,366.28 L70.50,362.59 L71.25,359.13 L72.00,357.32 L72.75,352.45 L73.50,349.57 L74.25,345.86 L75.00,345.34 L75.75,343.67 L76.50,341.42 L77.25,338.56 L78.00,335.85 L78.75,333.27 L79.50,331.50 L80.25,330.39 L81.00,327.52 L81.75,325.48 L82.50,324.56 L83.25,325.04 L84.00,322.47 L84.75,322.75 L85.50,320.45 L86.25,317.19 L87.00,312.99 L87.75,312.72 L88.50,311.75 L89.25,309.96 L90.00,310.36 L90.75,310.58 L91.50,309.86 L92.25,310.84 L93.00,310.73 L93.75,314.16 L94.50,312.87 L95.25,312.37 L96.00,311.60 L96.75,313.31 L97.50,314.45 L98.25,314.63 L99.00,313.51 L99.75,314.05 L100.50,314.55 L101.25,316.55 L102.00,316.30 L102.75,317.52 L103.50,319.78 L104.25,316.02 L105.00,316.77 L105.75,317.07 L106.50,315.33 L107.25,317.66 L108.00,317.06 L108.75,317.95 L109.50,318.69 L110.25,320.10 L111.00,318.39 L111.75,318.27 L112.50,317.57 L113.25,317.53 L114.00,321.11 L114.75,319.54 L115.50,317.80 L116.25,320.24 L117.00,322.18 L117.75,319.70 L118.50,320.32" fill="none" stroke="#000" stroke-width="1.9" stroke-linejoin="round"/>
<path d="M39.00,393.47 L39.75,392.99 L40.50,391.15 L41.25,393.61 L42.00,393.33 L42.75,393.31 L43.50,393.03 L44.25,394.98 L45.00,394.50 L45.75,394.80 L46.50,392.65 L47.25,391.84 L48.00,390.79 L48.75,391.63 L49.50,388.21 L50.25,393.68 L51.00,392.84 L51.75,392.53 L52.50,393.58 L53.25,391.99 L54.00,392.48 L54.75,393.36 L55.50,390.11 L56.25,394.12 L57.00,392.76 L57.75,393.09 L58.50,390.72 L59.25,390.71 L60.00,394.09 L60.75,391.63 L61.50,391.17 L62.25,392.34 L63.00,394.02 L63.75,388.60 L64.50,391.17 L65.25,388.63 L66.00,387.53 L66.75,383.02 L67.50,382.46 L68.25,382.87 L69.00,379.42 L69.75,376.66 L70.50,375.14 L71.25,373.51 L72.00,373.95 L72.75,372.10 L73.50,370.08 L74.25,370.80 L75.00,367.53 L75.75,365.53 L76.50,370.12 L77.25,366.01 L78.00,367.66 L78.75,365.10 L79.50,363.92 L80.25,364.35 L81.00,362.04 L81.75,361.11 L82.50,361.43 L83.25,360.87 L84.00,361.99 L84.75,363.71 L85.50,359.28 L86.25,358.43 L87.00,360.41 L87.75,360.33 L88.50,361.00 L89.25,358.19 L90.00,359.26 L90.75,358.35 L91.50,355.57 L92.25,357.74 L93.00,355.08 L93.75,357.32 L94.50,356.13 L95.25,355.93 L96.00,359.07 L96.75,358.66 L97.50,356.66 L98.25,355.83 L99.00,353.62 L99.75,355.78 L100.50,355.12 L101.25,353.45 L102.00,352.44 L102.75,355.21 L103.50,356.21 L104.25,358.56 L105.00,356.91 L105.75,356.68 L106.50,358.58 L107.25,358.60 L108.00,359.93 L108.75,360.56 L109.50,357.77 L110.25,354.95 L111.00,357.88 L111.75,357.49 L112.50,358.88 L113.25,354.91 L114.00,357.82 L114.75,358.88 L115.50,358.23 L116.25,359.70 L117.00,359.51 L117.75,359.70 L118.50,361.37" fill="none" stroke="#c4c4c4" stroke-width="2.2" stroke-linejoin="round"/>
<path d="M39.00,390.20 L39.75,390.02 L40.50,388.76 L41.25,391.56 L42.00,388.07 L42.75,389.05 L43.50,390.34 L44.25,390.33 L45.00,390.27 L45.75,388.29 L46.50,391.17 L47.25,388.83 L48.00,388.99 L48.75,389.07 L49.50,389.05 L50.25,388.41 L51.00,390.68 L51.75,389.47 L52.50,390.24 L53.25,387.37 L54.00,389.20 L54.75,388.67 L55.50,389.24 L56.25,389.14 L57.00,389.35 L57.75,388.75 L58.50,388.78 L59.25,388.83 L60.00,388.93 L60.75,388.72 L61.50,388.13 L62.25,388.92 L63.00,387.58 L63.75,390.47 L64.50,387.11 L65.25,385.03 L66.00,380.53 L66.75,375.99 L67.50,373.30 L68.25,372.65 L69.00,371.70 L69.75,370.75 L70.50,369.54 L71.25,369.42 L72.00,365.19 L72.75,368.36 L73.50,366.21 L74.25,365.68 L75.00,362.70 L75.75,363.77 L76.50,361.47 L77.25,362.68 L78.00,362.46 L78.75,361.95 L79.50,361.08 L80.25,360.41 L81.00,359.85 L81.75,360.82 L82.50,359.77 L83.25,359.41 L84.00,361.57 L84.75,359.13 L85.50,357.05 L86.25,354.69 L87.00,353.59 L87.75,356.03 L88.50,357.25 L89.25,355.02 L90.00,354.24 L90.75,355.15 L91.50,355.70 L92.25,356.71 L93.00,355.66 L93.75,354.72 L94.50,355.98 L95.25,354.31 L96.00,353.25 L96.75,353.32 L97.50,354.19 L98.25,354.23 L99.00,354.68 L99.75,354.74 L100.50,357.31 L101.25,355.49 L102.00,351.87 L102.75,351.67 L103.50,353.32 L104.25,352.40 L105.00,355.55 L105.75,353.10 L106.50,352.40 L107.25,352.66 L108.00,352.22 L108.75,352.95 L109.50,352.10 L110.25,352.48 L111.00,351.39 L111.75,348.65 L112.50,351.49 L113.25,353.56 L114.00,350.91 L114.75,350.64 L115.50,352.09 L116.25,350.81 L117.00,351.15 L117.75,350.74 L118.50,351.55" fill="none" stroke="#6a6a6a" stroke-width="2.2" stroke-linejoin="round"/>
<text x="254.30" y="240.61" font-size="9.2" font-weight="bold" text-anchor="middle" fill="#000" textLength="66.00" lengthAdjust="spacingAndGlyphs">5 mM Caffeine</text>
<text x="254.30" y="252.31" font-size="9.2" font-weight="bold" text-anchor="middle" fill="#000" textLength="87.00" lengthAdjust="spacingAndGlyphs">+ 50 µM Ryanodine</text>
<line x1="212.00" y1="258.20" x2="297.00" y2="258.20" stroke="#000" stroke-width="1.7" stroke-linecap="butt"/>
<text x="203.55" y="277.53" font-size="9.8" font-weight="bold" text-anchor="middle" fill="#000" textLength="23.70" lengthAdjust="spacingAndGlyphs">Peak</text>
<text x="291.60" y="277.53" font-size="9.8" font-weight="bold" text-anchor="middle" fill="#000" textLength="75.60" lengthAdjust="spacingAndGlyphs">Rate of change</text>
<line x1="168.30" y1="280.10" x2="171.50" y2="280.10" stroke="#000" stroke-width="1.2" stroke-linecap="butt"/>
<text x="164.90" y="283.56" font-size="9.6" font-weight="normal" text-anchor="end" fill="#222" textLength="14.70" lengthAdjust="spacingAndGlyphs">200</text>
<line x1="168.30" y1="312.00" x2="171.50" y2="312.00" stroke="#000" stroke-width="1.2" stroke-linecap="butt"/>
<text x="164.90" y="315.46" font-size="9.6" font-weight="normal" text-anchor="end" fill="#222" textLength="14.70" lengthAdjust="spacingAndGlyphs">150</text>
<line x1="168.30" y1="343.60" x2="171.50" y2="343.60" stroke="#000" stroke-width="1.2" stroke-linecap="butt"/>
<text x="164.90" y="347.06" font-size="9.6" font-weight="normal" text-anchor="end" fill="#222" textLength="14.70" lengthAdjust="spacingAndGlyphs">100</text>
<line x1="168.30" y1="375.70" x2="171.50" y2="375.70" stroke="#000" stroke-width="1.2" stroke-linecap="butt"/>
<text x="164.90" y="379.16" font-size="9.6" font-weight="normal" text-anchor="end" fill="#222" textLength="9.80" lengthAdjust="spacingAndGlyphs">50</text>
<line x1="168.30" y1="407.80" x2="171.50" y2="407.80" stroke="#000" stroke-width="1.2" stroke-linecap="butt"/>
<text x="164.90" y="411.26" font-size="9.6" font-weight="normal" text-anchor="end" fill="#222" textLength="4.90" lengthAdjust="spacingAndGlyphs">0</text>
<line x1="187.50" y1="293.70" x2="187.50" y2="309.90" stroke="#222" stroke-width="1.3" stroke-linecap="butt"/>
<line x1="184.00" y1="293.70" x2="191.00" y2="293.70" stroke="#222" stroke-width="1.3" stroke-linecap="butt"/>
<rect x="180.00" y="309.90" width="15.00" height="98.10" fill="#000"/>
<line x1="187.50" y1="408.00" x2="187.50" y2="411.20" stroke="#000" stroke-width="1.2" stroke-linecap="butt"/>
<line x1="211.45" y1="345.30" x2="211.45" y2="358.20" stroke="#222" stroke-width="1.3" stroke-linecap="butt"/>
<line x1="207.95" y1="345.30" x2="214.95" y2="345.30" stroke="#222" stroke-width="1.3" stroke-linecap="butt"/>
<rect x="204.50" y="358.70" width="13.90" height="49.30" fill="#bfbfbf" stroke="#111" stroke-width="1"/>
<text x="211.45" y="342.88" font-size="13" font-weight="bold" text-anchor="middle" fill="#000">*</text>
<line x1="211.45" y1="408.00" x2="211.45" y2="411.20" stroke="#000" stroke-width="1.2" stroke-linecap="butt"/>
<line x1="235.65" y1="354.80" x2="235.65" y2="358.80" stroke="#222" stroke-width="1.3" stroke-linecap="butt"/>
<line x1="232.15" y1="354.80" x2="239.15" y2="354.80" stroke="#222" stroke-width="1.3" stroke-linecap="butt"/>
<rect x="228.80" y="359.30" width="13.70" height="48.70" fill="#666666" stroke="#111" stroke-width="1"/>
<text x="235.65" y="352.38" font-size="13" font-weight="bold" text-anchor="middle" fill="#000">*</text>
<line x1="235.65" y1="408.00" x2="235.65" y2="411.20" stroke="#000" stroke-width="1.2" stroke-linecap="butt"/>
<line x1="171.50" y1="280.10" x2="171.50" y2="408.80" stroke="#000" stroke-width="1.6" stroke-linecap="butt"/>
<line x1="170.70" y1="408.00" x2="251.50" y2="408.00" stroke="#000" stroke-width="1.6" stroke-linecap="butt"/>
<line x1="340.00" y1="280.40" x2="343.00" y2="280.40" stroke="#000" stroke-width="1.2" stroke-linecap="butt"/>
<text x="346.20" y="283.86" font-size="9.6" font-weight="normal" text-anchor="start" fill="#222" textLength="4.90" lengthAdjust="spacingAndGlyphs">6</text>
<line x1="340.00" y1="301.90" x2="343.00" y2="301.90" stroke="#000" stroke-width="1.2" stroke-linecap="butt"/>
<text x="346.20" y="305.36" font-size="9.6" font-weight="normal" text-anchor="start" fill="#222" textLength="4.90" lengthAdjust="spacingAndGlyphs">5</text>
<line x1="340.00" y1="322.80" x2="343.00" y2="322.80" stroke="#000" stroke-width="1.2" stroke-linecap="butt"/>
<text x="346.20" y="326.26" font-size="9.6" font-weight="normal" text-anchor="start" fill="#222" textLength="4.90" lengthAdjust="spacingAndGlyphs">4</text>
<line x1="340.00" y1="344.00" x2="343.00" y2="344.00" stroke="#000" stroke-width="1.2" stroke-linecap="butt"/>
<text x="346.20" y="347.46" font-size="9.6" font-weight="normal" text-anchor="start" fill="#222" textLength="4.90" lengthAdjust="spacingAndGlyphs">3</text>
<line x1="340.00" y1="365.40" x2="343.00" y2="365.40" stroke="#000" stroke-width="1.2" stroke-linecap="butt"/>
<text x="346.20" y="368.86" font-size="9.6" font-weight="normal" text-anchor="start" fill="#222" textLength="4.90" lengthAdjust="spacingAndGlyphs">2</text>
<line x1="340.00" y1="386.70" x2="343.00" y2="386.70" stroke="#000" stroke-width="1.2" stroke-linecap="butt"/>
<text x="346.20" y="390.16" font-size="9.6" font-weight="normal" text-anchor="start" fill="#222" textLength="4.90" lengthAdjust="spacingAndGlyphs">1</text>
<line x1="340.00" y1="408.00" x2="343.00" y2="408.00" stroke="#000" stroke-width="1.2" stroke-linecap="butt"/>
<text x="346.20" y="411.46" font-size="9.6" font-weight="normal" text-anchor="start" fill="#222" textLength="4.90" lengthAdjust="spacingAndGlyphs">0</text>
<line x1="276.20" y1="340.20" x2="276.20" y2="350.60" stroke="#222" stroke-width="1.3" stroke-linecap="butt"/>
<line x1="272.70" y1="340.20" x2="279.70" y2="340.20" stroke="#222" stroke-width="1.3" stroke-linecap="butt"/>
<rect x="268.60" y="350.60" width="15.20" height="57.40" fill="#000"/>
<line x1="276.20" y1="408.00" x2="276.20" y2="411.20" stroke="#000" stroke-width="1.2" stroke-linecap="butt"/>
<line x1="300.10" y1="378.50" x2="300.10" y2="385.40" stroke="#222" stroke-width="1.3" stroke-linecap="butt"/>
<line x1="296.60" y1="378.50" x2="303.60" y2="378.50" stroke="#222" stroke-width="1.3" stroke-linecap="butt"/>
<rect x="293.40" y="385.90" width="13.40" height="22.10" fill="#bfbfbf" stroke="#111" stroke-width="1"/>
<text x="300.10" y="374.58" font-size="13" font-weight="bold" text-anchor="middle" fill="#000">*</text>
<line x1="300.10" y1="408.00" x2="300.10" y2="411.20" stroke="#000" stroke-width="1.2" stroke-linecap="butt"/>
<line x1="324.70" y1="378.20" x2="324.70" y2="384.20" stroke="#222" stroke-width="1.3" stroke-linecap="butt"/>
<line x1="321.20" y1="378.20" x2="328.20" y2="378.20" stroke="#222" stroke-width="1.3" stroke-linecap="butt"/>
<rect x="317.90" y="384.70" width="13.60" height="23.30" fill="#666666" stroke="#111" stroke-width="1"/>
<text x="324.70" y="370.88" font-size="13" font-weight="bold" text-anchor="middle" fill="#000">*</text>
<line x1="324.70" y1="408.00" x2="324.70" y2="411.20" stroke="#000" stroke-width="1.2" stroke-linecap="butt"/>
<line x1="340.00" y1="280.40" x2="340.00" y2="408.80" stroke="#000" stroke-width="1.6" stroke-linecap="butt"/>
<line x1="260.00" y1="408.00" x2="340.80" y2="408.00" stroke="#000" stroke-width="1.6" stroke-linecap="butt"/>
<text x="187.50" y="425.40" font-size="10" font-weight="bold" text-anchor="middle" fill="#000" textLength="6.01" lengthAdjust="spacingAndGlyphs">0</text>
<text x="211.40" y="425.40" font-size="10" font-weight="bold" text-anchor="middle" fill="#000" textLength="6.01" lengthAdjust="spacingAndGlyphs">1</text>
<text x="236.30" y="425.40" font-size="10" font-weight="bold" text-anchor="middle" fill="#000" textLength="12.01" lengthAdjust="spacingAndGlyphs">10</text>
<text x="215.20" y="440.60" font-size="10" font-weight="bold" text-anchor="middle" fill="#000" textLength="49.60" lengthAdjust="spacingAndGlyphs">K201 (µM)</text>
<text x="276.60" y="425.40" font-size="10" font-weight="bold" text-anchor="middle" fill="#000" textLength="6.01" lengthAdjust="spacingAndGlyphs">0</text>
<text x="299.70" y="425.40" font-size="10" font-weight="bold" text-anchor="middle" fill="#000" textLength="6.01" lengthAdjust="spacingAndGlyphs">1</text>
<text x="324.60" y="425.40" font-size="10" font-weight="bold" text-anchor="middle" fill="#000" textLength="12.01" lengthAdjust="spacingAndGlyphs">10</text>
<text x="303.50" y="440.60" font-size="10" font-weight="bold" text-anchor="middle" fill="#000" textLength="49.30" lengthAdjust="spacingAndGlyphs">K201 (µM)</text>
<g transform="translate(142.30 343.55) rotate(-90)"><text x="0" y="0" font-size="10.8" text-anchor="middle" textLength="63.20" lengthAdjust="spacingAndGlyphs" fill="#111">Δ [Ca<tspan dy="-6.6" font-size="7.0">2+</tspan><tspan dy="6.6">]</tspan><tspan dy="2.2" font-size="6.4">i</tspan><tspan dy="-2.2"> (nM)</tspan></text></g>
<g transform="translate(371.40 344.20) rotate(-90)"><text x="0" y="0" font-size="10.0" text-anchor="middle" textLength="169.00" lengthAdjust="spacingAndGlyphs" fill="#111">Max rate of change in [Ca<tspan dy="-6.4" font-size="6.8">2+</tspan><tspan dy="6.4">]</tspan><tspan dy="2.2" font-size="6.4">i</tspan><tspan dy="-2.2"> (nM/s)</tspan></text></g>
<text x="394.80" y="250.60" font-size="16" font-weight="normal" text-anchor="start" fill="#000">D</text>
<rect x="442.60" y="234.50" width="83.70" height="31.70" fill="#fff"/>
<rect x="473.50" y="234.50" width="52.80" height="16.10" fill="#bebebe"/>
<rect x="443.10" y="235.00" width="82.70" height="30.70" fill="none" stroke="#8a8a8a" stroke-width="1"/>
<line x1="442.60" y1="250.60" x2="526.30" y2="250.60" stroke="#8a8a8a" stroke-width="1" stroke-linecap="butt"/>
<line x1="473.50" y1="234.50" x2="473.50" y2="250.60" stroke="#8a8a8a" stroke-width="1" stroke-linecap="butt"/>
<text x="442.90" y="247.00" font-size="10.4" font-weight="bold" text-anchor="start" fill="#000">0 Ca<tspan dy="-5.2" font-size="6.4">2+</tspan></text>
<text x="488.10" y="247.00" font-size="10.4" font-weight="bold" text-anchor="start" fill="#000">2 Ca<tspan dy="-5.2" font-size="6.4">2+</tspan></text>
<text x="484.15" y="262.90" font-size="9.8" font-weight="bold" text-anchor="middle" fill="#000" textLength="75.70" lengthAdjust="spacingAndGlyphs">Caf + Ryanodine</text>
<line x1="447.30" y1="279.10" x2="472.70" y2="279.10" stroke="#000" stroke-width="2.0" stroke-linecap="butt"/>
<text x="478.30" y="283.22" font-size="10.6" font-weight="bold" text-anchor="start" fill="#000" textLength="52.60" lengthAdjust="spacingAndGlyphs">Ctrl siRNA</text>
<line x1="447.30" y1="292.80" x2="472.70" y2="292.80" stroke="#c4c4c4" stroke-width="2.0" stroke-linecap="butt"/>
<text x="478.30" y="296.92" font-size="10.6" font-weight="bold" text-anchor="start" fill="#000" textLength="65.80" lengthAdjust="spacingAndGlyphs">STIM1 siRNA</text>
<line x1="439.90" y1="281.40" x2="443.10" y2="281.40" stroke="#000" stroke-width="1.2" stroke-linecap="butt"/>
<text x="436.50" y="284.86" font-size="9.6" font-weight="normal" text-anchor="end" fill="#222" textLength="14.70" lengthAdjust="spacingAndGlyphs">200</text>
<line x1="439.90" y1="309.90" x2="443.10" y2="309.90" stroke="#000" stroke-width="1.2" stroke-linecap="butt"/>
<text x="436.50" y="313.36" font-size="9.6" font-weight="normal" text-anchor="end" fill="#222" textLength="14.70" lengthAdjust="spacingAndGlyphs">150</text>
<line x1="439.90" y1="338.40" x2="443.10" y2="338.40" stroke="#000" stroke-width="1.2" stroke-linecap="butt"/>
<text x="436.50" y="341.86" font-size="9.6" font-weight="normal" text-anchor="end" fill="#222" textLength="14.70" lengthAdjust="spacingAndGlyphs">100</text>
<line x1="439.90" y1="366.90" x2="443.10" y2="366.90" stroke="#000" stroke-width="1.2" stroke-linecap="butt"/>
<text x="436.50" y="370.36" font-size="9.6" font-weight="normal" text-anchor="end" fill="#222" textLength="9.80" lengthAdjust="spacingAndGlyphs">50</text>
<line x1="439.90" y1="395.40" x2="443.10" y2="395.40" stroke="#000" stroke-width="1.2" stroke-linecap="butt"/>
<text x="436.50" y="398.86" font-size="9.6" font-weight="normal" text-anchor="end" fill="#222" textLength="4.90" lengthAdjust="spacingAndGlyphs">0</text>
<line x1="443.10" y1="281.40" x2="443.10" y2="412.30" stroke="#000" stroke-width="1.8" stroke-linecap="butt"/>
<line x1="442.20" y1="409.50" x2="523.80" y2="409.50" stroke="#000" stroke-width="1.8" stroke-linecap="butt"/>
<line x1="443.10" y1="409.50" x2="443.10" y2="412.70" stroke="#000" stroke-width="1.2" stroke-linecap="butt"/>
<text x="443.10" y="425.06" font-size="9.6" font-weight="normal" text-anchor="middle" fill="#222" textLength="4.90" lengthAdjust="spacingAndGlyphs">0</text>
<line x1="469.70" y1="409.50" x2="469.70" y2="412.70" stroke="#000" stroke-width="1.2" stroke-linecap="butt"/>
<text x="469.70" y="425.06" font-size="9.6" font-weight="normal" text-anchor="middle" fill="#222" textLength="14.70" lengthAdjust="spacingAndGlyphs">100</text>
<line x1="496.30" y1="409.50" x2="496.30" y2="412.70" stroke="#000" stroke-width="1.2" stroke-linecap="butt"/>
<text x="496.30" y="425.06" font-size="9.6" font-weight="normal" text-anchor="middle" fill="#222" textLength="14.70" lengthAdjust="spacingAndGlyphs">200</text>
<line x1="522.90" y1="409.50" x2="522.90" y2="412.70" stroke="#000" stroke-width="1.2" stroke-linecap="butt"/>
<text x="522.90" y="425.06" font-size="9.6" font-weight="normal" text-anchor="middle" fill="#222" textLength="14.70" lengthAdjust="spacingAndGlyphs">300</text>
<text x="487.50" y="438.72" font-size="10.6" font-weight="normal" text-anchor="middle" fill="#111" textLength="38.00" lengthAdjust="spacingAndGlyphs">Time (s)</text>
<g transform="translate(416.30 344.95) rotate(-90)"><text x="0" y="0" font-size="10.8" text-anchor="middle" textLength="63.00" lengthAdjust="spacingAndGlyphs" fill="#111">Δ [Ca<tspan dy="-6.6" font-size="7.0">2+</tspan><tspan dy="6.6">]</tspan><tspan dy="2.2" font-size="6.4">i</tspan><tspan dy="-2.2"> (nM)</tspan></text></g>
<path d="M443.20,395.43 L443.95,395.38 L444.70,395.45 L445.45,396.42 L446.20,395.72 L446.95,393.98 L447.70,395.67 L448.45,395.41 L449.20,395.42 L449.95,395.82 L450.70,396.07 L451.45,397.21 L452.20,396.93 L452.95,396.25 L453.70,395.11 L454.45,394.53 L455.20,395.84 L455.95,397.41 L456.70,396.36 L457.45,395.94 L458.20,396.58 L458.95,394.47 L459.70,395.27 L460.45,396.41 L461.20,397.15 L461.95,396.07 L462.70,396.52 L463.45,396.50 L464.20,397.12 L464.95,395.11 L465.70,396.56 L466.45,394.54 L467.20,392.78 L467.95,387.35 L468.70,380.91 L469.45,377.08 L470.20,372.11 L470.95,366.57 L471.70,364.98 L472.45,359.88 L473.20,357.11 L473.95,353.62 L474.70,351.43 L475.45,350.88 L476.20,349.42 L476.95,347.62 L477.70,346.41 L478.45,344.30 L479.20,340.96 L479.95,338.48 L480.70,336.61 L481.45,335.88 L482.20,333.58 L482.95,334.69 L483.70,330.05 L484.45,327.28 L485.20,328.01 L485.95,328.11 L486.70,326.25 L487.45,325.33 L488.20,324.94 L488.95,322.25 L489.70,319.56 L490.45,319.35 L491.20,320.45 L491.95,317.40 L492.70,317.78 L493.45,317.56 L494.20,316.45 L494.95,316.93 L495.70,316.46 L496.45,317.90 L497.20,315.87 L497.95,313.56 L498.70,313.17 L499.45,312.76 L500.20,314.71 L500.95,313.45 L501.70,313.71 L502.45,314.71 L503.20,313.27 L503.95,313.41 L504.70,311.68 L505.45,312.24 L506.20,313.08 L506.95,314.52 L507.70,315.87 L508.45,314.91 L509.20,315.10 L509.95,315.13 L510.70,316.30 L511.45,316.47 L512.20,315.95 L512.95,314.49 L513.70,316.46 L514.45,316.50 L515.20,317.62 L515.95,316.62 L516.70,318.91 L517.45,317.06 L518.20,319.08 L518.95,318.12 L519.70,317.39 L520.45,316.73 L521.20,317.93 L521.95,320.28" fill="none" stroke="#000" stroke-width="1.9" stroke-linejoin="round"/>
<path d="M443.20,394.93 L443.95,396.05 L444.70,397.12 L445.45,398.39 L446.20,394.60 L446.95,394.44 L447.70,394.14 L448.45,394.83 L449.20,395.22 L449.95,393.86 L450.70,395.53 L451.45,393.76 L452.20,395.86 L452.95,394.52 L453.70,395.73 L454.45,396.23 L455.20,395.63 L455.95,394.86 L456.70,394.42 L457.45,393.86 L458.20,397.22 L458.95,396.81 L459.70,398.38 L460.45,396.82 L461.20,396.38 L461.95,395.06 L462.70,395.16 L463.45,393.47 L464.20,396.39 L464.95,397.12 L465.70,397.97 L466.45,398.15 L467.20,394.92 L467.95,388.28 L468.70,388.01 L469.45,384.36 L470.20,379.54 L470.95,377.70 L471.70,378.37 L472.45,378.71 L473.20,375.86 L473.95,372.85 L474.70,373.28 L475.45,372.88 L476.20,368.90 L476.95,369.63 L477.70,366.68 L478.45,366.73 L479.20,366.82 L479.95,365.70 L480.70,362.80 L481.45,364.00 L482.20,361.35 L482.95,362.93 L483.70,359.31 L484.45,359.73 L485.20,359.30 L485.95,358.34 L486.70,358.77 L487.45,358.38 L488.20,359.81 L488.95,357.80 L489.70,357.59 L490.45,354.01 L491.20,355.47 L491.95,355.02 L492.70,355.00 L493.45,354.50 L494.20,350.74 L494.95,348.84 L495.70,348.86 L496.45,348.76 L497.20,351.15 L497.95,346.97 L498.70,348.33 L499.45,349.67 L500.20,348.17 L500.95,345.81 L501.70,345.75 L502.45,347.50 L503.20,348.04 L503.95,346.82 L504.70,347.02 L505.45,348.31 L506.20,346.16 L506.95,348.57 L507.70,345.05 L508.45,347.87 L509.20,343.98 L509.95,346.69 L510.70,345.54 L511.45,343.14 L512.20,344.70 L512.95,345.61 L513.70,345.83 L514.45,345.21 L515.20,344.62 L515.95,344.32 L516.70,345.03 L517.45,346.90 L518.20,346.56 L518.95,346.97 L519.70,346.59 L520.45,348.31 L521.20,350.27 L521.95,350.70" fill="none" stroke="#c4c4c4" stroke-width="2.2" stroke-linejoin="round"/>
<text x="661.80" y="243.51" font-size="9.2" font-weight="bold" text-anchor="middle" fill="#000" textLength="66.00" lengthAdjust="spacingAndGlyphs">5 mM Caffeine</text>
<text x="661.80" y="255.21" font-size="9.2" font-weight="bold" text-anchor="middle" fill="#000" textLength="87.00" lengthAdjust="spacingAndGlyphs">+ 50 µM Ryanodine</text>
<line x1="619.60" y1="261.00" x2="704.50" y2="261.00" stroke="#000" stroke-width="1.7" stroke-linecap="butt"/>
<text x="609.75" y="282.03" font-size="9.8" font-weight="bold" text-anchor="middle" fill="#000" textLength="23.90" lengthAdjust="spacingAndGlyphs">Peak</text>
<text x="697.55" y="281.73" font-size="9.8" font-weight="bold" text-anchor="middle" fill="#000" textLength="74.90" lengthAdjust="spacingAndGlyphs">Rate of change</text>
<line x1="572.80" y1="283.90" x2="576.00" y2="283.90" stroke="#000" stroke-width="1.2" stroke-linecap="butt"/>
<text x="569.40" y="287.36" font-size="9.6" font-weight="normal" text-anchor="end" fill="#222" textLength="14.70" lengthAdjust="spacingAndGlyphs">200</text>
<line x1="572.80" y1="315.80" x2="576.00" y2="315.80" stroke="#000" stroke-width="1.2" stroke-linecap="butt"/>
<text x="569.40" y="319.26" font-size="9.6" font-weight="normal" text-anchor="end" fill="#222" textLength="14.70" lengthAdjust="spacingAndGlyphs">150</text>
<line x1="572.80" y1="347.80" x2="576.00" y2="347.80" stroke="#000" stroke-width="1.2" stroke-linecap="butt"/>
<text x="569.40" y="351.26" font-size="9.6" font-weight="normal" text-anchor="end" fill="#222" textLength="14.70" lengthAdjust="spacingAndGlyphs">100</text>
<line x1="572.80" y1="380.00" x2="576.00" y2="380.00" stroke="#000" stroke-width="1.2" stroke-linecap="butt"/>
<text x="569.40" y="383.46" font-size="9.6" font-weight="normal" text-anchor="end" fill="#222" textLength="9.80" lengthAdjust="spacingAndGlyphs">50</text>
<line x1="572.80" y1="411.80" x2="576.00" y2="411.80" stroke="#000" stroke-width="1.2" stroke-linecap="butt"/>
<text x="569.40" y="415.26" font-size="9.6" font-weight="normal" text-anchor="end" fill="#222" textLength="4.90" lengthAdjust="spacingAndGlyphs">0</text>
<line x1="597.70" y1="309.50" x2="597.70" y2="318.00" stroke="#222" stroke-width="1.3" stroke-linecap="butt"/>
<line x1="594.20" y1="309.50" x2="601.20" y2="309.50" stroke="#222" stroke-width="1.3" stroke-linecap="butt"/>
<rect x="586.60" y="318.00" width="22.20" height="93.80" fill="#000"/>
<line x1="597.70" y1="411.80" x2="597.70" y2="415.00" stroke="#000" stroke-width="1.2" stroke-linecap="butt"/>
<line x1="633.80" y1="354.40" x2="633.80" y2="356.30" stroke="#222" stroke-width="1.3" stroke-linecap="butt"/>
<line x1="630.30" y1="354.40" x2="637.30" y2="354.40" stroke="#222" stroke-width="1.3" stroke-linecap="butt"/>
<rect x="623.20" y="356.80" width="21.20" height="55.00" fill="#bfbfbf" stroke="#111" stroke-width="1"/>
<text x="633.80" y="351.48" font-size="13" font-weight="bold" text-anchor="middle" fill="#000">*</text>
<line x1="633.80" y1="411.80" x2="633.80" y2="415.00" stroke="#000" stroke-width="1.2" stroke-linecap="butt"/>
<line x1="576.00" y1="283.90" x2="576.00" y2="412.60" stroke="#000" stroke-width="1.6" stroke-linecap="butt"/>
<line x1="575.20" y1="411.80" x2="656.30" y2="411.80" stroke="#000" stroke-width="1.6" stroke-linecap="butt"/>
<line x1="749.90" y1="284.00" x2="752.90" y2="284.00" stroke="#000" stroke-width="1.2" stroke-linecap="butt"/>
<text x="756.10" y="287.46" font-size="9.6" font-weight="normal" text-anchor="start" fill="#222" textLength="9.80" lengthAdjust="spacingAndGlyphs">10</text>
<line x1="749.90" y1="309.50" x2="752.90" y2="309.50" stroke="#000" stroke-width="1.2" stroke-linecap="butt"/>
<text x="756.10" y="312.96" font-size="9.6" font-weight="normal" text-anchor="start" fill="#222" textLength="4.90" lengthAdjust="spacingAndGlyphs">8</text>
<line x1="749.90" y1="334.70" x2="752.90" y2="334.70" stroke="#000" stroke-width="1.2" stroke-linecap="butt"/>
<text x="756.10" y="338.16" font-size="9.6" font-weight="normal" text-anchor="start" fill="#222" textLength="4.90" lengthAdjust="spacingAndGlyphs">6</text>
<line x1="749.90" y1="360.40" x2="752.90" y2="360.40" stroke="#000" stroke-width="1.2" stroke-linecap="butt"/>
<text x="756.10" y="363.86" font-size="9.6" font-weight="normal" text-anchor="start" fill="#222" textLength="4.90" lengthAdjust="spacingAndGlyphs">4</text>
<line x1="749.90" y1="386.10" x2="752.90" y2="386.10" stroke="#000" stroke-width="1.2" stroke-linecap="butt"/>
<text x="756.10" y="389.56" font-size="9.6" font-weight="normal" text-anchor="start" fill="#222" textLength="4.90" lengthAdjust="spacingAndGlyphs">2</text>
<line x1="749.90" y1="411.80" x2="752.90" y2="411.80" stroke="#000" stroke-width="1.2" stroke-linecap="butt"/>
<text x="756.10" y="415.26" font-size="9.6" font-weight="normal" text-anchor="start" fill="#222" textLength="4.90" lengthAdjust="spacingAndGlyphs">0</text>
<line x1="691.65" y1="314.50" x2="691.65" y2="328.20" stroke="#222" stroke-width="1.3" stroke-linecap="butt"/>
<line x1="688.15" y1="314.50" x2="695.15" y2="314.50" stroke="#222" stroke-width="1.3" stroke-linecap="butt"/>
<rect x="680.50" y="328.20" width="22.30" height="83.60" fill="#000"/>
<line x1="691.65" y1="411.80" x2="691.65" y2="415.00" stroke="#000" stroke-width="1.2" stroke-linecap="butt"/>
<line x1="727.60" y1="372.50" x2="727.60" y2="381.70" stroke="#222" stroke-width="1.3" stroke-linecap="butt"/>
<line x1="724.10" y1="372.50" x2="731.10" y2="372.50" stroke="#222" stroke-width="1.3" stroke-linecap="butt"/>
<rect x="717.10" y="382.20" width="21.00" height="29.60" fill="#bfbfbf" stroke="#111" stroke-width="1"/>
<text x="727.60" y="365.18" font-size="13" font-weight="bold" text-anchor="middle" fill="#000">*</text>
<line x1="727.60" y1="411.80" x2="727.60" y2="415.00" stroke="#000" stroke-width="1.2" stroke-linecap="butt"/>
<line x1="749.90" y1="284.00" x2="749.90" y2="412.60" stroke="#000" stroke-width="1.6" stroke-linecap="butt"/>
<line x1="669.30" y1="411.80" x2="750.70" y2="411.80" stroke="#000" stroke-width="1.6" stroke-linecap="butt"/>
<text x="594.60" y="426.40" font-size="10" font-weight="bold" text-anchor="middle" fill="#000" textLength="18.60" lengthAdjust="spacingAndGlyphs">Ctrl</text>
<text x="594.60" y="440.20" font-size="10" font-weight="bold" text-anchor="middle" fill="#000" textLength="32.41" lengthAdjust="spacingAndGlyphs">siRNA</text>
<text x="633.50" y="426.40" font-size="10" font-weight="bold" text-anchor="middle" fill="#000" textLength="31.80" lengthAdjust="spacingAndGlyphs">STIM1</text>
<text x="633.50" y="440.20" font-size="10" font-weight="bold" text-anchor="middle" fill="#000" textLength="32.41" lengthAdjust="spacingAndGlyphs">siRNA</text>
<text x="691.10" y="425.70" font-size="10" font-weight="bold" text-anchor="middle" fill="#000" textLength="18.60" lengthAdjust="spacingAndGlyphs">Ctrl</text>
<text x="691.10" y="439.90" font-size="10" font-weight="bold" text-anchor="middle" fill="#000" textLength="32.41" lengthAdjust="spacingAndGlyphs">siRNA</text>
<text x="730.10" y="425.70" font-size="10" font-weight="bold" text-anchor="middle" fill="#000" textLength="31.80" lengthAdjust="spacingAndGlyphs">STIM1</text>
<text x="730.10" y="439.90" font-size="10" font-weight="bold" text-anchor="middle" fill="#000" textLength="32.41" lengthAdjust="spacingAndGlyphs">siRNA</text>
<g transform="translate(547.80 347.35) rotate(-90)"><text x="0" y="0" font-size="10.8" text-anchor="middle" textLength="63.20" lengthAdjust="spacingAndGlyphs" fill="#111">Δ [Ca<tspan dy="-6.6" font-size="7.0">2+</tspan><tspan dy="6.6">]</tspan><tspan dy="2.2" font-size="6.4">i</tspan><tspan dy="-2.2"> (nM)</tspan></text></g>
<g transform="translate(785.40 347.90) rotate(-90)"><text x="0" y="0" font-size="10.0" text-anchor="middle" textLength="169.00" lengthAdjust="spacingAndGlyphs" fill="#111">Max rate of change in [Ca<tspan dy="-6.4" font-size="6.8">2+</tspan><tspan dy="6.4">]</tspan><tspan dy="2.2" font-size="6.4">i</tspan><tspan dy="-2.2"> (nM/s)</tspan></text></g>
<text x="2.20" y="469.20" font-size="16" font-weight="normal" text-anchor="start" fill="#000">E</text>
<rect x="38.50" y="461.40" width="83.40" height="31.70" fill="#fff"/>
<rect x="68.70" y="461.40" width="53.20" height="15.80" fill="#bebebe"/>
<rect x="39.00" y="461.90" width="82.40" height="30.70" fill="none" stroke="#8a8a8a" stroke-width="1"/>
<line x1="38.50" y1="477.20" x2="121.90" y2="477.20" stroke="#8a8a8a" stroke-width="1" stroke-linecap="butt"/>
<line x1="68.70" y1="461.40" x2="68.70" y2="477.20" stroke="#8a8a8a" stroke-width="1" stroke-linecap="butt"/>
<text x="38.80" y="473.60" font-size="10.4" font-weight="bold" text-anchor="start" fill="#000">0 Ca<tspan dy="-5.2" font-size="6.4">2+</tspan></text>
<text x="83.30" y="473.60" font-size="10.4" font-weight="bold" text-anchor="start" fill="#000">2 Ca<tspan dy="-5.2" font-size="6.4">2+</tspan></text>
<text x="79.90" y="489.80" font-size="9.8" font-weight="bold" text-anchor="middle" fill="#000" textLength="75.40" lengthAdjust="spacingAndGlyphs">Caf + Ryanodine</text>
<line x1="43.00" y1="504.60" x2="68.10" y2="504.60" stroke="#000" stroke-width="2.0" stroke-linecap="butt"/>
<text x="74.20" y="508.72" font-size="10.6" font-weight="bold" text-anchor="start" fill="#000" textLength="36.90" lengthAdjust="spacingAndGlyphs">Control</text>
<line x1="43.00" y1="518.90" x2="68.10" y2="518.90" stroke="#c4c4c4" stroke-width="2.0" stroke-linecap="butt"/>
<text x="74.20" y="523.02" font-size="10.6" font-weight="bold" text-anchor="start" fill="#000" textLength="62.30" lengthAdjust="spacingAndGlyphs">100 µM ML-9</text>
<line x1="35.80" y1="507.30" x2="39.00" y2="507.30" stroke="#000" stroke-width="1.2" stroke-linecap="butt"/>
<text x="32.40" y="510.76" font-size="9.6" font-weight="normal" text-anchor="end" fill="#222" textLength="14.70" lengthAdjust="spacingAndGlyphs">250</text>
<line x1="35.80" y1="530.70" x2="39.00" y2="530.70" stroke="#000" stroke-width="1.2" stroke-linecap="butt"/>
<text x="32.40" y="534.16" font-size="9.6" font-weight="normal" text-anchor="end" fill="#222" textLength="14.70" lengthAdjust="spacingAndGlyphs">200</text>
<line x1="35.80" y1="554.00" x2="39.00" y2="554.00" stroke="#000" stroke-width="1.2" stroke-linecap="butt"/>
<text x="32.40" y="557.46" font-size="9.6" font-weight="normal" text-anchor="end" fill="#222" textLength="14.70" lengthAdjust="spacingAndGlyphs">150</text>
<line x1="35.80" y1="576.90" x2="39.00" y2="576.90" stroke="#000" stroke-width="1.2" stroke-linecap="butt"/>
<text x="32.40" y="580.36" font-size="9.6" font-weight="normal" text-anchor="end" fill="#222" textLength="14.70" lengthAdjust="spacingAndGlyphs">100</text>
<line x1="35.80" y1="600.40" x2="39.00" y2="600.40" stroke="#000" stroke-width="1.2" stroke-linecap="butt"/>
<text x="32.40" y="603.86" font-size="9.6" font-weight="normal" text-anchor="end" fill="#222" textLength="9.80" lengthAdjust="spacingAndGlyphs">50</text>
<line x1="35.80" y1="623.40" x2="39.00" y2="623.40" stroke="#000" stroke-width="1.2" stroke-linecap="butt"/>
<text x="32.40" y="626.86" font-size="9.6" font-weight="normal" text-anchor="end" fill="#222" textLength="4.90" lengthAdjust="spacingAndGlyphs">0</text>
<line x1="39.00" y1="507.30" x2="39.00" y2="637.80" stroke="#000" stroke-width="1.8" stroke-linecap="butt"/>
<line x1="38.10" y1="635.00" x2="119.50" y2="635.00" stroke="#000" stroke-width="1.8" stroke-linecap="butt"/>
<line x1="39.00" y1="635.00" x2="39.00" y2="638.20" stroke="#000" stroke-width="1.2" stroke-linecap="butt"/>
<text x="39.00" y="650.96" font-size="9.6" font-weight="normal" text-anchor="middle" fill="#222" textLength="4.90" lengthAdjust="spacingAndGlyphs">0</text>
<line x1="65.53" y1="635.00" x2="65.53" y2="638.20" stroke="#000" stroke-width="1.2" stroke-linecap="butt"/>
<text x="65.53" y="650.96" font-size="9.6" font-weight="normal" text-anchor="middle" fill="#222" textLength="14.70" lengthAdjust="spacingAndGlyphs">100</text>
<line x1="92.07" y1="635.00" x2="92.07" y2="638.20" stroke="#000" stroke-width="1.2" stroke-linecap="butt"/>
<text x="92.07" y="650.96" font-size="9.6" font-weight="normal" text-anchor="middle" fill="#222" textLength="14.70" lengthAdjust="spacingAndGlyphs">200</text>
<line x1="118.60" y1="635.00" x2="118.60" y2="638.20" stroke="#000" stroke-width="1.2" stroke-linecap="butt"/>
<text x="118.60" y="650.96" font-size="9.6" font-weight="normal" text-anchor="middle" fill="#222" textLength="14.70" lengthAdjust="spacingAndGlyphs">300</text>
<text x="83.50" y="664.22" font-size="10.6" font-weight="normal" text-anchor="middle" fill="#111" textLength="38.00" lengthAdjust="spacingAndGlyphs">Time (s)</text>
<g transform="translate(12.20 570.65) rotate(-90)"><text x="0" y="0" font-size="10.8" text-anchor="middle" textLength="63.00" lengthAdjust="spacingAndGlyphs" fill="#111">Δ [Ca<tspan dy="-6.6" font-size="7.0">2+</tspan><tspan dy="6.6">]</tspan><tspan dy="2.2" font-size="6.4">i</tspan><tspan dy="-2.2"> (nM)</tspan></text></g>
<path d="M39.00,625.49 L39.75,625.06 L40.50,624.75 L41.25,623.24 L42.00,625.98 L42.75,624.70 L43.50,625.69 L44.25,624.75 L45.00,626.47 L45.75,625.32 L46.50,625.64 L47.25,626.41 L48.00,625.09 L48.75,624.73 L49.50,624.76 L50.25,625.07 L51.00,625.77 L51.75,625.47 L52.50,625.11 L53.25,626.02 L54.00,625.29 L54.75,623.27 L55.50,626.24 L56.25,622.46 L57.00,626.83 L57.75,622.80 L58.50,621.99 L59.25,622.70 L60.00,625.23 L60.75,623.18 L61.50,625.02 L62.25,625.72 L63.00,623.52 L63.75,621.29 L64.50,615.08 L65.25,612.12 L66.00,608.42 L66.75,604.09 L67.50,603.04 L68.25,600.65 L69.00,599.81 L69.75,597.80 L70.50,593.98 L71.25,590.27 L72.00,587.74 L72.75,586.00 L73.50,584.53 L74.25,583.16 L75.00,582.41 L75.75,581.71 L76.50,578.90 L77.25,580.07 L78.00,576.34 L78.75,576.81 L79.50,574.45 L80.25,569.95 L81.00,572.98 L81.75,574.10 L82.50,572.43 L83.25,567.58 L84.00,564.50 L84.75,567.74 L85.50,567.69 L86.25,565.97 L87.00,565.15 L87.75,563.12 L88.50,565.06 L89.25,561.53 L90.00,560.06 L90.75,560.12 L91.50,561.11 L92.25,558.98 L93.00,557.46 L93.75,557.03 L94.50,556.06 L95.25,553.54 L96.00,553.85 L96.75,553.44 L97.50,552.00 L98.25,552.63 L99.00,552.82 L99.75,551.06 L100.50,550.52 L101.25,552.70 L102.00,554.29 L102.75,555.16 L103.50,555.92 L104.25,554.71 L105.00,553.75 L105.75,552.17 L106.50,550.53 L107.25,547.21 L108.00,550.07 L108.75,551.87 L109.50,551.08 L110.25,553.47 L111.00,553.75 L111.75,552.97 L112.50,551.49 L113.25,553.94 L114.00,554.39 L114.75,550.58 L115.50,552.32 L116.25,553.99 L117.00,551.56 L117.75,555.11 L118.50,553.12" fill="none" stroke="#000" stroke-width="1.9" stroke-linejoin="round"/>
<path d="M39.00,624.07 L39.75,625.65 L40.50,625.76 L41.25,626.62 L42.00,624.86 L42.75,625.95 L43.50,625.73 L44.25,623.81 L45.00,626.15 L45.75,624.09 L46.50,622.17 L47.25,622.96 L48.00,622.62 L48.75,622.98 L49.50,625.15 L50.25,624.26 L51.00,626.75 L51.75,624.41 L52.50,625.15 L53.25,624.48 L54.00,621.61 L54.75,623.76 L55.50,624.78 L56.25,625.91 L57.00,622.85 L57.75,625.51 L58.50,626.47 L59.25,623.57 L60.00,624.71 L60.75,626.36 L61.50,622.16 L62.25,624.54 L63.00,621.18 L63.75,623.28 L64.50,624.22 L65.25,620.36 L66.00,619.49 L66.75,614.65 L67.50,615.40 L68.25,615.83 L69.00,617.94 L69.75,616.80 L70.50,618.12 L71.25,617.13 L72.00,615.94 L72.75,616.90 L73.50,617.33 L74.25,616.62 L75.00,618.04 L75.75,615.86 L76.50,616.74 L77.25,617.45 L78.00,615.68 L78.75,615.99 L79.50,615.90 L80.25,613.60 L81.00,617.49 L81.75,615.48 L82.50,616.19 L83.25,610.63 L84.00,615.50 L84.75,613.98 L85.50,612.67 L86.25,613.45 L87.00,615.18 L87.75,611.38 L88.50,614.49 L89.25,611.57 L90.00,614.46 L90.75,613.90 L91.50,614.96 L92.25,614.51 L93.00,611.78 L93.75,611.68 L94.50,613.02 L95.25,611.86 L96.00,611.98 L96.75,610.33 L97.50,612.50 L98.25,615.77 L99.00,614.22 L99.75,612.77 L100.50,609.98 L101.25,610.56 L102.00,612.75 L102.75,611.25 L103.50,611.83 L104.25,610.24 L105.00,609.71 L105.75,610.33 L106.50,609.36 L107.25,608.83 L108.00,609.92 L108.75,609.34 L109.50,606.40 L110.25,609.79 L111.00,611.83 L111.75,610.40 L112.50,608.88 L113.25,607.42 L114.00,607.48 L114.75,608.39 L115.50,610.23 L116.25,609.26 L117.00,608.66 L117.75,607.08 L118.50,608.39" fill="none" stroke="#c4c4c4" stroke-width="2.2" stroke-linejoin="round"/>
<text x="259.50" y="471.31" font-size="9.2" font-weight="bold" text-anchor="middle" fill="#000" textLength="66.00" lengthAdjust="spacingAndGlyphs">5 mM Caffeine</text>
<text x="259.50" y="483.41" font-size="9.2" font-weight="bold" text-anchor="middle" fill="#000" textLength="87.00" lengthAdjust="spacingAndGlyphs">+ 50 µM Ryanodine</text>
<line x1="217.30" y1="488.90" x2="302.10" y2="488.90" stroke="#000" stroke-width="1.7" stroke-linecap="butt"/>
<text x="207.80" y="510.13" font-size="9.8" font-weight="bold" text-anchor="middle" fill="#000" textLength="23.60" lengthAdjust="spacingAndGlyphs">Peak</text>
<text x="295.75" y="510.13" font-size="9.8" font-weight="bold" text-anchor="middle" fill="#000" textLength="75.50" lengthAdjust="spacingAndGlyphs">Rate of change</text>
<line x1="168.50" y1="508.50" x2="171.70" y2="508.50" stroke="#000" stroke-width="1.2" stroke-linecap="butt"/>
<text x="165.10" y="511.96" font-size="9.6" font-weight="normal" text-anchor="end" fill="#222" textLength="14.70" lengthAdjust="spacingAndGlyphs">250</text>
<line x1="168.50" y1="534.10" x2="171.70" y2="534.10" stroke="#000" stroke-width="1.2" stroke-linecap="butt"/>
<text x="165.10" y="537.56" font-size="9.6" font-weight="normal" text-anchor="end" fill="#222" textLength="14.70" lengthAdjust="spacingAndGlyphs">200</text>
<line x1="168.50" y1="560.10" x2="171.70" y2="560.10" stroke="#000" stroke-width="1.2" stroke-linecap="butt"/>
<text x="165.10" y="563.56" font-size="9.6" font-weight="normal" text-anchor="end" fill="#222" textLength="14.70" lengthAdjust="spacingAndGlyphs">150</text>
<line x1="168.50" y1="585.70" x2="171.70" y2="585.70" stroke="#000" stroke-width="1.2" stroke-linecap="butt"/>
<text x="165.10" y="589.16" font-size="9.6" font-weight="normal" text-anchor="end" fill="#222" textLength="14.70" lengthAdjust="spacingAndGlyphs">100</text>
<line x1="168.50" y1="611.10" x2="171.70" y2="611.10" stroke="#000" stroke-width="1.2" stroke-linecap="butt"/>
<text x="165.10" y="614.56" font-size="9.6" font-weight="normal" text-anchor="end" fill="#222" textLength="9.80" lengthAdjust="spacingAndGlyphs">50</text>
<line x1="168.50" y1="636.90" x2="171.70" y2="636.90" stroke="#000" stroke-width="1.2" stroke-linecap="butt"/>
<text x="165.10" y="640.36" font-size="9.6" font-weight="normal" text-anchor="end" fill="#222" textLength="4.90" lengthAdjust="spacingAndGlyphs">0</text>
<line x1="193.30" y1="530.30" x2="193.30" y2="550.60" stroke="#222" stroke-width="1.3" stroke-linecap="butt"/>
<line x1="189.80" y1="530.30" x2="196.80" y2="530.30" stroke="#222" stroke-width="1.3" stroke-linecap="butt"/>
<rect x="182.20" y="550.60" width="22.20" height="86.30" fill="#000"/>
<line x1="193.30" y1="636.90" x2="193.30" y2="640.10" stroke="#000" stroke-width="1.2" stroke-linecap="butt"/>
<line x1="229.40" y1="609.40" x2="229.40" y2="617.00" stroke="#222" stroke-width="1.3" stroke-linecap="butt"/>
<line x1="225.90" y1="609.40" x2="232.90" y2="609.40" stroke="#222" stroke-width="1.3" stroke-linecap="butt"/>
<rect x="218.80" y="617.50" width="21.20" height="19.40" fill="#bfbfbf" stroke="#111" stroke-width="1"/>
<text x="229.40" y="607.78" font-size="13" font-weight="bold" text-anchor="middle" fill="#000">*</text>
<line x1="229.40" y1="636.90" x2="229.40" y2="640.10" stroke="#000" stroke-width="1.2" stroke-linecap="butt"/>
<line x1="171.70" y1="508.50" x2="171.70" y2="637.70" stroke="#000" stroke-width="1.6" stroke-linecap="butt"/>
<line x1="170.90" y1="636.90" x2="251.50" y2="636.90" stroke="#000" stroke-width="1.6" stroke-linecap="butt"/>
<line x1="344.10" y1="508.90" x2="347.10" y2="508.90" stroke="#000" stroke-width="1.2" stroke-linecap="butt"/>
<text x="350.30" y="512.36" font-size="9.6" font-weight="normal" text-anchor="start" fill="#222" textLength="4.90" lengthAdjust="spacingAndGlyphs">8</text>
<line x1="344.10" y1="540.80" x2="347.10" y2="540.80" stroke="#000" stroke-width="1.2" stroke-linecap="butt"/>
<text x="350.30" y="544.26" font-size="9.6" font-weight="normal" text-anchor="start" fill="#222" textLength="4.90" lengthAdjust="spacingAndGlyphs">6</text>
<line x1="344.10" y1="572.80" x2="347.10" y2="572.80" stroke="#000" stroke-width="1.2" stroke-linecap="butt"/>
<text x="350.30" y="576.26" font-size="9.6" font-weight="normal" text-anchor="start" fill="#222" textLength="4.90" lengthAdjust="spacingAndGlyphs">4</text>
<line x1="344.10" y1="604.70" x2="347.10" y2="604.70" stroke="#000" stroke-width="1.2" stroke-linecap="butt"/>
<text x="350.30" y="608.16" font-size="9.6" font-weight="normal" text-anchor="start" fill="#222" textLength="4.90" lengthAdjust="spacingAndGlyphs">2</text>
<line x1="344.10" y1="636.80" x2="347.10" y2="636.80" stroke="#000" stroke-width="1.2" stroke-linecap="butt"/>
<text x="350.30" y="640.26" font-size="9.6" font-weight="normal" text-anchor="start" fill="#222" textLength="4.90" lengthAdjust="spacingAndGlyphs">0</text>
<line x1="285.80" y1="549.10" x2="285.80" y2="565.20" stroke="#222" stroke-width="1.3" stroke-linecap="butt"/>
<line x1="282.30" y1="549.10" x2="289.30" y2="549.10" stroke="#222" stroke-width="1.3" stroke-linecap="butt"/>
<rect x="274.70" y="565.20" width="22.20" height="71.70" fill="#000"/>
<line x1="285.80" y1="636.90" x2="285.80" y2="640.10" stroke="#000" stroke-width="1.2" stroke-linecap="butt"/>
<line x1="322.15" y1="604.10" x2="322.15" y2="617.00" stroke="#222" stroke-width="1.3" stroke-linecap="butt"/>
<line x1="318.65" y1="604.10" x2="325.65" y2="604.10" stroke="#222" stroke-width="1.3" stroke-linecap="butt"/>
<rect x="311.30" y="617.50" width="21.70" height="19.40" fill="#bfbfbf" stroke="#111" stroke-width="1"/>
<text x="322.15" y="600.58" font-size="13" font-weight="bold" text-anchor="middle" fill="#000">*</text>
<line x1="322.15" y1="636.90" x2="322.15" y2="640.10" stroke="#000" stroke-width="1.2" stroke-linecap="butt"/>
<line x1="344.10" y1="508.90" x2="344.10" y2="637.70" stroke="#000" stroke-width="1.6" stroke-linecap="butt"/>
<line x1="263.70" y1="636.90" x2="344.90" y2="636.90" stroke="#000" stroke-width="1.6" stroke-linecap="butt"/>
<text x="193.60" y="652.30" font-size="10" font-weight="bold" text-anchor="middle" fill="#000" textLength="18.60" lengthAdjust="spacingAndGlyphs">Ctrl</text>
<text x="230.20" y="652.30" font-size="10" font-weight="bold" text-anchor="middle" fill="#000" textLength="36.24" lengthAdjust="spacingAndGlyphs">100 µM</text>
<text x="230.20" y="666.90" font-size="10" font-weight="bold" text-anchor="middle" fill="#000" textLength="25.19" lengthAdjust="spacingAndGlyphs">ML-9</text>
<text x="284.20" y="652.30" font-size="10" font-weight="bold" text-anchor="middle" fill="#000" textLength="18.60" lengthAdjust="spacingAndGlyphs">Ctrl</text>
<text x="321.20" y="652.30" font-size="10" font-weight="bold" text-anchor="middle" fill="#000" textLength="36.24" lengthAdjust="spacingAndGlyphs">100 µM</text>
<text x="321.20" y="666.90" font-size="10" font-weight="bold" text-anchor="middle" fill="#000" textLength="25.19" lengthAdjust="spacingAndGlyphs">ML-9</text>
<g transform="translate(142.50 572.20) rotate(-90)"><text x="0" y="0" font-size="10.8" text-anchor="middle" textLength="63.20" lengthAdjust="spacingAndGlyphs" fill="#111">Δ [Ca<tspan dy="-6.6" font-size="7.0">2+</tspan><tspan dy="6.6">]</tspan><tspan dy="2.2" font-size="6.4">i</tspan><tspan dy="-2.2"> (nM)</tspan></text></g>
<g transform="translate(375.30 572.90) rotate(-90)"><text x="0" y="0" font-size="10.0" text-anchor="middle" textLength="169.00" lengthAdjust="spacingAndGlyphs" fill="#111">Max rate of change in [Ca<tspan dy="-6.4" font-size="6.8">2+</tspan><tspan dy="6.4">]</tspan><tspan dy="2.2" font-size="6.4">i</tspan><tspan dy="-2.2"> (nM/s)</tspan></text></g>
<text x="394.00" y="469.20" font-size="16" font-weight="normal" text-anchor="start" fill="#000">F</text>
<rect x="444.10" y="460.40" width="83.50" height="31.70" fill="#fff"/>
<rect x="474.50" y="460.40" width="53.10" height="16.20" fill="#bebebe"/>
<rect x="444.60" y="460.90" width="82.50" height="30.70" fill="none" stroke="#8a8a8a" stroke-width="1"/>
<line x1="444.10" y1="476.60" x2="527.60" y2="476.60" stroke="#8a8a8a" stroke-width="1" stroke-linecap="butt"/>
<line x1="474.50" y1="460.40" x2="474.50" y2="476.60" stroke="#8a8a8a" stroke-width="1" stroke-linecap="butt"/>
<text x="444.40" y="473.00" font-size="10.4" font-weight="bold" text-anchor="start" fill="#000">0 Ca<tspan dy="-5.2" font-size="6.4">2+</tspan></text>
<text x="489.10" y="473.00" font-size="10.4" font-weight="bold" text-anchor="start" fill="#000">2 Ca<tspan dy="-5.2" font-size="6.4">2+</tspan></text>
<text x="485.55" y="488.80" font-size="9.8" font-weight="bold" text-anchor="middle" fill="#000" textLength="75.50" lengthAdjust="spacingAndGlyphs">Caf + Ryanodine</text>
<line x1="447.30" y1="505.40" x2="472.70" y2="505.40" stroke="#000" stroke-width="2.0" stroke-linecap="butt"/>
<text x="478.30" y="509.52" font-size="10.6" font-weight="bold" text-anchor="start" fill="#000" textLength="52.60" lengthAdjust="spacingAndGlyphs">Ctrl siRNA</text>
<line x1="447.30" y1="518.80" x2="472.70" y2="518.80" stroke="#c4c4c4" stroke-width="2.0" stroke-linecap="butt"/>
<text x="478.30" y="522.92" font-size="10.6" font-weight="bold" text-anchor="start" fill="#000" textLength="68.80" lengthAdjust="spacingAndGlyphs">TRPC1 siRNA</text>
<line x1="439.80" y1="507.90" x2="443.00" y2="507.90" stroke="#000" stroke-width="1.2" stroke-linecap="butt"/>
<text x="436.40" y="511.36" font-size="9.6" font-weight="normal" text-anchor="end" fill="#222" textLength="14.70" lengthAdjust="spacingAndGlyphs">200</text>
<line x1="439.80" y1="536.80" x2="443.00" y2="536.80" stroke="#000" stroke-width="1.2" stroke-linecap="butt"/>
<text x="436.40" y="540.26" font-size="9.6" font-weight="normal" text-anchor="end" fill="#222" textLength="14.70" lengthAdjust="spacingAndGlyphs">150</text>
<line x1="439.80" y1="564.90" x2="443.00" y2="564.90" stroke="#000" stroke-width="1.2" stroke-linecap="butt"/>
<text x="436.40" y="568.36" font-size="9.6" font-weight="normal" text-anchor="end" fill="#222" textLength="14.70" lengthAdjust="spacingAndGlyphs">100</text>
<line x1="439.80" y1="593.40" x2="443.00" y2="593.40" stroke="#000" stroke-width="1.2" stroke-linecap="butt"/>
<text x="436.40" y="596.86" font-size="9.6" font-weight="normal" text-anchor="end" fill="#222" textLength="9.80" lengthAdjust="spacingAndGlyphs">50</text>
<line x1="439.80" y1="621.90" x2="443.00" y2="621.90" stroke="#000" stroke-width="1.2" stroke-linecap="butt"/>
<text x="436.40" y="625.36" font-size="9.6" font-weight="normal" text-anchor="end" fill="#222" textLength="4.90" lengthAdjust="spacingAndGlyphs">0</text>
<line x1="443.00" y1="507.90" x2="443.00" y2="638.90" stroke="#000" stroke-width="1.8" stroke-linecap="butt"/>
<line x1="442.10" y1="636.10" x2="523.80" y2="636.10" stroke="#000" stroke-width="1.8" stroke-linecap="butt"/>
<line x1="443.00" y1="636.10" x2="443.00" y2="639.30" stroke="#000" stroke-width="1.2" stroke-linecap="butt"/>
<text x="443.00" y="651.96" font-size="9.6" font-weight="normal" text-anchor="middle" fill="#222" textLength="4.90" lengthAdjust="spacingAndGlyphs">0</text>
<line x1="469.63" y1="636.10" x2="469.63" y2="639.30" stroke="#000" stroke-width="1.2" stroke-linecap="butt"/>
<text x="469.63" y="651.96" font-size="9.6" font-weight="normal" text-anchor="middle" fill="#222" textLength="14.70" lengthAdjust="spacingAndGlyphs">100</text>
<line x1="496.27" y1="636.10" x2="496.27" y2="639.30" stroke="#000" stroke-width="1.2" stroke-linecap="butt"/>
<text x="496.27" y="651.96" font-size="9.6" font-weight="normal" text-anchor="middle" fill="#222" textLength="14.70" lengthAdjust="spacingAndGlyphs">200</text>
<line x1="522.90" y1="636.10" x2="522.90" y2="639.30" stroke="#000" stroke-width="1.2" stroke-linecap="butt"/>
<text x="522.90" y="651.96" font-size="9.6" font-weight="normal" text-anchor="middle" fill="#222" textLength="14.70" lengthAdjust="spacingAndGlyphs">300</text>
<text x="487.50" y="665.62" font-size="10.6" font-weight="normal" text-anchor="middle" fill="#111" textLength="38.00" lengthAdjust="spacingAndGlyphs">Time (s)</text>
<g transform="translate(416.20 571.50) rotate(-90)"><text x="0" y="0" font-size="10.8" text-anchor="middle" textLength="63.00" lengthAdjust="spacingAndGlyphs" fill="#111">Δ [Ca<tspan dy="-6.6" font-size="7.0">2+</tspan><tspan dy="6.6">]</tspan><tspan dy="2.2" font-size="6.4">i</tspan><tspan dy="-2.2"> (nM)</tspan></text></g>
<path d="M443.10,622.23 L443.85,621.07 L444.60,622.15 L445.35,621.04 L446.10,617.76 L446.85,620.63 L447.60,619.46 L448.35,621.55 L449.10,622.58 L449.85,623.95 L450.60,621.88 L451.35,620.26 L452.10,621.04 L452.85,621.10 L453.60,617.28 L454.35,618.48 L455.10,617.88 L455.85,620.38 L456.60,619.94 L457.35,620.23 L458.10,621.15 L458.85,620.68 L459.60,617.83 L460.35,618.30 L461.10,620.44 L461.85,619.37 L462.60,618.75 L463.35,620.96 L464.10,621.40 L464.85,619.94 L465.60,619.67 L466.35,621.58 L467.10,617.87 L467.85,612.61 L468.60,610.38 L469.35,608.28 L470.10,601.83 L470.85,598.87 L471.60,597.50 L472.35,592.38 L473.10,588.69 L473.85,584.36 L474.60,584.27 L475.35,575.84 L476.10,574.84 L476.85,568.74 L477.60,562.03 L478.35,558.54 L479.10,556.88 L479.85,556.93 L480.60,553.71 L481.35,550.18 L482.10,547.51 L482.85,546.76 L483.60,545.80 L484.35,541.89 L485.10,541.45 L485.85,539.98 L486.60,537.70 L487.35,536.56 L488.10,535.81 L488.85,534.66 L489.60,533.39 L490.35,533.58 L491.10,532.88 L491.85,532.32 L492.60,530.98 L493.35,533.57 L494.10,532.67 L494.85,537.21 L495.60,537.58 L496.35,533.47 L497.10,535.79 L497.85,531.58 L498.60,529.45 L499.35,530.51 L500.10,531.72 L500.85,532.97 L501.60,536.14 L502.35,532.62 L503.10,533.36 L503.85,535.24 L504.60,534.68 L505.35,536.84 L506.10,536.66 L506.85,537.96 L507.60,537.66 L508.35,536.75 L509.10,536.81 L509.85,535.08 L510.60,535.84 L511.35,534.69 L512.10,532.73 L512.85,531.95 L513.60,532.91 L514.35,536.23 L515.10,535.62 L515.85,536.69 L516.60,537.94 L517.35,535.92 L518.10,537.57 L518.85,538.51 L519.60,535.81 L520.35,539.78 L521.10,539.71 L521.85,541.20 L522.60,543.37" fill="none" stroke="#000" stroke-width="1.9" stroke-linejoin="round"/>
<path d="M443.10,620.31 L443.85,622.03 L444.60,622.94 L445.35,621.20 L446.10,621.04 L446.85,624.52 L447.60,621.39 L448.35,622.36 L449.10,621.19 L449.85,623.03 L450.60,623.84 L451.35,624.95 L452.10,625.18 L452.85,621.54 L453.60,621.23 L454.35,621.01 L455.10,621.25 L455.85,622.58 L456.60,622.33 L457.35,621.03 L458.10,620.88 L458.85,626.76 L459.60,621.00 L460.35,626.15 L461.10,621.27 L461.85,620.23 L462.60,621.18 L463.35,621.39 L464.10,621.92 L464.85,621.06 L465.60,621.38 L466.35,622.72 L467.10,622.22 L467.85,618.10 L468.60,615.53 L469.35,610.72 L470.10,610.37 L470.85,600.57 L471.60,601.20 L472.35,601.20 L473.10,599.19 L473.85,598.29 L474.60,596.77 L475.35,597.10 L476.10,593.40 L476.85,591.38 L477.60,588.25 L478.35,588.28 L479.10,586.98 L479.85,587.40 L480.60,585.76 L481.35,585.91 L482.10,583.88 L482.85,581.25 L483.60,580.91 L484.35,580.01 L485.10,581.89 L485.85,580.09 L486.60,580.78 L487.35,582.14 L488.10,581.82 L488.85,580.42 L489.60,581.02 L490.35,576.85 L491.10,581.07 L491.85,579.51 L492.60,577.42 L493.35,581.35 L494.10,580.57 L494.85,578.19 L495.60,582.18 L496.35,584.73 L497.10,583.60 L497.85,582.60 L498.60,584.93 L499.35,588.27 L500.10,584.77 L500.85,585.15 L501.60,584.15 L502.35,585.05 L503.10,584.89 L503.85,585.38 L504.60,583.61 L505.35,584.24 L506.10,586.98 L506.85,581.36 L507.60,581.64 L508.35,582.20 L509.10,582.26 L509.85,582.78 L510.60,583.15 L511.35,584.79 L512.10,584.15 L512.85,584.96 L513.60,585.19 L514.35,586.99 L515.10,582.45 L515.85,585.77 L516.60,582.96 L517.35,583.32 L518.10,584.35 L518.85,582.69 L519.60,584.75 L520.35,584.81 L521.10,585.80 L521.85,586.06 L522.60,582.30" fill="none" stroke="#c4c4c4" stroke-width="2.2" stroke-linejoin="round"/>
<text x="661.70" y="474.61" font-size="9.2" font-weight="bold" text-anchor="middle" fill="#000" textLength="66.00" lengthAdjust="spacingAndGlyphs">5 mM Caffeine</text>
<text x="661.70" y="486.81" font-size="9.2" font-weight="bold" text-anchor="middle" fill="#000" textLength="87.00" lengthAdjust="spacingAndGlyphs">+ 50 µM Ryanodine</text>
<line x1="619.60" y1="492.00" x2="704.20" y2="492.00" stroke="#000" stroke-width="1.7" stroke-linecap="butt"/>
<text x="609.10" y="512.03" font-size="9.8" font-weight="bold" text-anchor="middle" fill="#000" textLength="23.40" lengthAdjust="spacingAndGlyphs">Peak</text>
<text x="697.20" y="512.03" font-size="9.8" font-weight="bold" text-anchor="middle" fill="#000" textLength="75.00" lengthAdjust="spacingAndGlyphs">Rate of change</text>
<line x1="572.80" y1="510.40" x2="576.00" y2="510.40" stroke="#000" stroke-width="1.2" stroke-linecap="butt"/>
<text x="569.40" y="513.86" font-size="9.6" font-weight="normal" text-anchor="end" fill="#222" textLength="14.70" lengthAdjust="spacingAndGlyphs">200</text>
<line x1="572.80" y1="542.50" x2="576.00" y2="542.50" stroke="#000" stroke-width="1.2" stroke-linecap="butt"/>
<text x="569.40" y="545.96" font-size="9.6" font-weight="normal" text-anchor="end" fill="#222" textLength="14.70" lengthAdjust="spacingAndGlyphs">150</text>
<line x1="572.80" y1="574.30" x2="576.00" y2="574.30" stroke="#000" stroke-width="1.2" stroke-linecap="butt"/>
<text x="569.40" y="577.76" font-size="9.6" font-weight="normal" text-anchor="end" fill="#222" textLength="14.70" lengthAdjust="spacingAndGlyphs">100</text>
<line x1="572.80" y1="606.40" x2="576.00" y2="606.40" stroke="#000" stroke-width="1.2" stroke-linecap="butt"/>
<text x="569.40" y="609.86" font-size="9.6" font-weight="normal" text-anchor="end" fill="#222" textLength="9.80" lengthAdjust="spacingAndGlyphs">50</text>
<line x1="572.80" y1="638.30" x2="576.00" y2="638.30" stroke="#000" stroke-width="1.2" stroke-linecap="butt"/>
<text x="569.40" y="641.76" font-size="9.6" font-weight="normal" text-anchor="end" fill="#222" textLength="4.90" lengthAdjust="spacingAndGlyphs">0</text>
<line x1="597.70" y1="522.10" x2="597.70" y2="532.20" stroke="#222" stroke-width="1.3" stroke-linecap="butt"/>
<line x1="594.20" y1="522.10" x2="601.20" y2="522.10" stroke="#222" stroke-width="1.3" stroke-linecap="butt"/>
<rect x="586.60" y="532.20" width="22.20" height="106.10" fill="#000"/>
<line x1="597.70" y1="638.30" x2="597.70" y2="641.50" stroke="#000" stroke-width="1.2" stroke-linecap="butt"/>
<line x1="633.80" y1="571.50" x2="633.80" y2="582.30" stroke="#222" stroke-width="1.3" stroke-linecap="butt"/>
<line x1="630.30" y1="571.50" x2="637.30" y2="571.50" stroke="#222" stroke-width="1.3" stroke-linecap="butt"/>
<rect x="623.20" y="582.80" width="21.20" height="55.50" fill="#bfbfbf" stroke="#111" stroke-width="1"/>
<text x="633.80" y="567.88" font-size="13" font-weight="bold" text-anchor="middle" fill="#000">*</text>
<line x1="633.80" y1="638.30" x2="633.80" y2="641.50" stroke="#000" stroke-width="1.2" stroke-linecap="butt"/>
<line x1="576.00" y1="510.40" x2="576.00" y2="639.10" stroke="#000" stroke-width="1.6" stroke-linecap="butt"/>
<line x1="575.20" y1="638.30" x2="656.00" y2="638.30" stroke="#000" stroke-width="1.6" stroke-linecap="butt"/>
<line x1="745.00" y1="510.30" x2="748.00" y2="510.30" stroke="#000" stroke-width="1.2" stroke-linecap="butt"/>
<text x="751.20" y="513.76" font-size="9.6" font-weight="normal" text-anchor="start" fill="#222" textLength="9.80" lengthAdjust="spacingAndGlyphs">10</text>
<line x1="745.00" y1="535.90" x2="748.00" y2="535.90" stroke="#000" stroke-width="1.2" stroke-linecap="butt"/>
<text x="751.20" y="539.36" font-size="9.6" font-weight="normal" text-anchor="start" fill="#222" textLength="4.90" lengthAdjust="spacingAndGlyphs">8</text>
<line x1="745.00" y1="561.50" x2="748.00" y2="561.50" stroke="#000" stroke-width="1.2" stroke-linecap="butt"/>
<text x="751.20" y="564.96" font-size="9.6" font-weight="normal" text-anchor="start" fill="#222" textLength="4.90" lengthAdjust="spacingAndGlyphs">6</text>
<line x1="745.00" y1="587.20" x2="748.00" y2="587.20" stroke="#000" stroke-width="1.2" stroke-linecap="butt"/>
<text x="751.20" y="590.66" font-size="9.6" font-weight="normal" text-anchor="start" fill="#222" textLength="4.90" lengthAdjust="spacingAndGlyphs">4</text>
<line x1="745.00" y1="612.40" x2="748.00" y2="612.40" stroke="#000" stroke-width="1.2" stroke-linecap="butt"/>
<text x="751.20" y="615.86" font-size="9.6" font-weight="normal" text-anchor="start" fill="#222" textLength="4.90" lengthAdjust="spacingAndGlyphs">2</text>
<line x1="745.00" y1="637.70" x2="748.00" y2="637.70" stroke="#000" stroke-width="1.2" stroke-linecap="butt"/>
<text x="751.20" y="641.16" font-size="9.6" font-weight="normal" text-anchor="start" fill="#222" textLength="4.90" lengthAdjust="spacingAndGlyphs">0</text>
<line x1="687.20" y1="558.00" x2="687.20" y2="573.90" stroke="#222" stroke-width="1.3" stroke-linecap="butt"/>
<line x1="683.70" y1="558.00" x2="690.70" y2="558.00" stroke="#222" stroke-width="1.3" stroke-linecap="butt"/>
<rect x="676.20" y="573.90" width="22.00" height="64.40" fill="#000"/>
<line x1="687.20" y1="638.30" x2="687.20" y2="641.50" stroke="#000" stroke-width="1.2" stroke-linecap="butt"/>
<line x1="723.45" y1="602.80" x2="723.45" y2="610.30" stroke="#222" stroke-width="1.3" stroke-linecap="butt"/>
<line x1="719.95" y1="602.80" x2="726.95" y2="602.80" stroke="#222" stroke-width="1.3" stroke-linecap="butt"/>
<rect x="712.90" y="610.80" width="21.10" height="27.50" fill="#bfbfbf" stroke="#111" stroke-width="1"/>
<text x="723.45" y="594.87" font-size="13" font-weight="normal" text-anchor="middle" fill="#000">a</text>
<line x1="723.45" y1="638.30" x2="723.45" y2="641.50" stroke="#000" stroke-width="1.2" stroke-linecap="butt"/>
<line x1="745.00" y1="510.30" x2="745.00" y2="639.10" stroke="#000" stroke-width="1.6" stroke-linecap="butt"/>
<line x1="664.80" y1="638.30" x2="745.80" y2="638.30" stroke="#000" stroke-width="1.6" stroke-linecap="butt"/>
<text x="594.60" y="652.70" font-size="10" font-weight="bold" text-anchor="middle" fill="#000" textLength="18.60" lengthAdjust="spacingAndGlyphs">Ctrl</text>
<text x="594.60" y="667.10" font-size="10" font-weight="bold" text-anchor="middle" fill="#000" textLength="32.41" lengthAdjust="spacingAndGlyphs">siRNA</text>
<text x="635.00" y="652.70" font-size="10" font-weight="bold" text-anchor="middle" fill="#000" textLength="35.41" lengthAdjust="spacingAndGlyphs">TRPC1</text>
<text x="635.00" y="667.10" font-size="10" font-weight="bold" text-anchor="middle" fill="#000" textLength="32.41" lengthAdjust="spacingAndGlyphs">siRNA</text>
<text x="685.40" y="652.80" font-size="10" font-weight="bold" text-anchor="middle" fill="#000" textLength="18.60" lengthAdjust="spacingAndGlyphs">Ctrl</text>
<text x="685.40" y="666.10" font-size="10" font-weight="bold" text-anchor="middle" fill="#000" textLength="32.41" lengthAdjust="spacingAndGlyphs">siRNA</text>
<text x="725.80" y="652.80" font-size="10" font-weight="bold" text-anchor="middle" fill="#000" textLength="35.41" lengthAdjust="spacingAndGlyphs">TRPC1</text>
<text x="725.80" y="666.10" font-size="10" font-weight="bold" text-anchor="middle" fill="#000" textLength="32.41" lengthAdjust="spacingAndGlyphs">siRNA</text>
<g transform="translate(547.20 573.85) rotate(-90)"><text x="0" y="0" font-size="10.8" text-anchor="middle" textLength="63.20" lengthAdjust="spacingAndGlyphs" fill="#111">Δ [Ca<tspan dy="-6.6" font-size="7.0">2+</tspan><tspan dy="6.6">]</tspan><tspan dy="2.2" font-size="6.4">i</tspan><tspan dy="-2.2"> (nM)</tspan></text></g>
<g transform="translate(780.00 574.30) rotate(-90)"><text x="0" y="0" font-size="10.0" text-anchor="middle" textLength="169.00" lengthAdjust="spacingAndGlyphs" fill="#111">Max rate of change in [Ca<tspan dy="-6.4" font-size="6.8">2+</tspan><tspan dy="6.4">]</tspan><tspan dy="2.2" font-size="6.4">i</tspan><tspan dy="-2.2"> (nM/s)</tspan></text></g>
<text x="1.40" y="691.20" font-size="16" font-weight="normal" text-anchor="start" fill="#000">G</text>
<rect x="44.20" y="683.30" width="84.50" height="31.90" fill="#fff"/>
<rect x="75.60" y="683.30" width="53.10" height="15.70" fill="#bebebe"/>
<rect x="44.70" y="683.80" width="83.50" height="30.90" fill="none" stroke="#8a8a8a" stroke-width="1"/>
<line x1="44.20" y1="699.00" x2="128.70" y2="699.00" stroke="#8a8a8a" stroke-width="1" stroke-linecap="butt"/>
<line x1="75.60" y1="683.30" x2="75.60" y2="699.00" stroke="#8a8a8a" stroke-width="1" stroke-linecap="butt"/>
<text x="44.50" y="695.40" font-size="10.4" font-weight="bold" text-anchor="start" fill="#000">0 Ca<tspan dy="-5.2" font-size="6.4">2+</tspan></text>
<text x="90.20" y="695.40" font-size="10.4" font-weight="bold" text-anchor="start" fill="#000">2 Ca<tspan dy="-5.2" font-size="6.4">2+</tspan></text>
<text x="86.15" y="711.90" font-size="9.8" font-weight="bold" text-anchor="middle" fill="#000" textLength="76.50" lengthAdjust="spacingAndGlyphs">Caf + Ryanodine</text>
<line x1="47.00" y1="730.80" x2="72.10" y2="730.80" stroke="#000" stroke-width="2.0" stroke-linecap="butt"/>
<text x="78.20" y="734.92" font-size="10.6" font-weight="bold" text-anchor="start" fill="#000" textLength="52.40" lengthAdjust="spacingAndGlyphs">Ctrl siRNA</text>
<line x1="47.00" y1="744.50" x2="72.10" y2="744.50" stroke="#c4c4c4" stroke-width="2.0" stroke-linecap="butt"/>
<text x="78.20" y="748.62" font-size="10.6" font-weight="bold" text-anchor="start" fill="#000" textLength="61.50" lengthAdjust="spacingAndGlyphs">Orai1 siRNA</text>
<line x1="39.80" y1="733.60" x2="43.00" y2="733.60" stroke="#000" stroke-width="1.2" stroke-linecap="butt"/>
<text x="36.40" y="737.06" font-size="9.6" font-weight="normal" text-anchor="end" fill="#222" textLength="14.70" lengthAdjust="spacingAndGlyphs">300</text>
<line x1="39.80" y1="753.20" x2="43.00" y2="753.20" stroke="#000" stroke-width="1.2" stroke-linecap="butt"/>
<text x="36.40" y="756.66" font-size="9.6" font-weight="normal" text-anchor="end" fill="#222" textLength="14.70" lengthAdjust="spacingAndGlyphs">250</text>
<line x1="39.80" y1="773.00" x2="43.00" y2="773.00" stroke="#000" stroke-width="1.2" stroke-linecap="butt"/>
<text x="36.40" y="776.46" font-size="9.6" font-weight="normal" text-anchor="end" fill="#222" textLength="14.70" lengthAdjust="spacingAndGlyphs">200</text>
<line x1="39.80" y1="792.50" x2="43.00" y2="792.50" stroke="#000" stroke-width="1.2" stroke-linecap="butt"/>
<text x="36.40" y="795.96" font-size="9.6" font-weight="normal" text-anchor="end" fill="#222" textLength="14.70" lengthAdjust="spacingAndGlyphs">150</text>
<line x1="39.80" y1="812.10" x2="43.00" y2="812.10" stroke="#000" stroke-width="1.2" stroke-linecap="butt"/>
<text x="36.40" y="815.56" font-size="9.6" font-weight="normal" text-anchor="end" fill="#222" textLength="14.70" lengthAdjust="spacingAndGlyphs">100</text>
<line x1="39.80" y1="831.80" x2="43.00" y2="831.80" stroke="#000" stroke-width="1.2" stroke-linecap="butt"/>
<text x="36.40" y="835.26" font-size="9.6" font-weight="normal" text-anchor="end" fill="#222" textLength="9.80" lengthAdjust="spacingAndGlyphs">50</text>
<line x1="39.80" y1="851.40" x2="43.00" y2="851.40" stroke="#000" stroke-width="1.2" stroke-linecap="butt"/>
<text x="36.40" y="854.86" font-size="9.6" font-weight="normal" text-anchor="end" fill="#222" textLength="4.90" lengthAdjust="spacingAndGlyphs">0</text>
<line x1="43.00" y1="733.60" x2="43.00" y2="864.10" stroke="#000" stroke-width="1.8" stroke-linecap="butt"/>
<line x1="42.10" y1="861.30" x2="123.40" y2="861.30" stroke="#000" stroke-width="1.8" stroke-linecap="butt"/>
<line x1="43.00" y1="861.30" x2="43.00" y2="864.50" stroke="#000" stroke-width="1.2" stroke-linecap="butt"/>
<text x="43.00" y="876.26" font-size="9.6" font-weight="normal" text-anchor="middle" fill="#222" textLength="4.90" lengthAdjust="spacingAndGlyphs">0</text>
<line x1="69.50" y1="861.30" x2="69.50" y2="864.50" stroke="#000" stroke-width="1.2" stroke-linecap="butt"/>
<text x="69.50" y="876.26" font-size="9.6" font-weight="normal" text-anchor="middle" fill="#222" textLength="14.70" lengthAdjust="spacingAndGlyphs">100</text>
<line x1="96.00" y1="861.30" x2="96.00" y2="864.50" stroke="#000" stroke-width="1.2" stroke-linecap="butt"/>
<text x="96.00" y="876.26" font-size="9.6" font-weight="normal" text-anchor="middle" fill="#222" textLength="14.70" lengthAdjust="spacingAndGlyphs">200</text>
<line x1="122.50" y1="861.30" x2="122.50" y2="864.50" stroke="#000" stroke-width="1.2" stroke-linecap="butt"/>
<text x="122.50" y="876.26" font-size="9.6" font-weight="normal" text-anchor="middle" fill="#222" textLength="14.70" lengthAdjust="spacingAndGlyphs">300</text>
<text x="87.30" y="891.12" font-size="10.6" font-weight="normal" text-anchor="middle" fill="#111" textLength="38.00" lengthAdjust="spacingAndGlyphs">Time (s)</text>
<g transform="translate(16.20 796.95) rotate(-90)"><text x="0" y="0" font-size="10.8" text-anchor="middle" textLength="63.00" lengthAdjust="spacingAndGlyphs" fill="#111">Δ [Ca<tspan dy="-6.6" font-size="7.0">2+</tspan><tspan dy="6.6">]</tspan><tspan dy="2.2" font-size="6.4">i</tspan><tspan dy="-2.2"> (nM)</tspan></text></g>
<path d="M43.00,852.29 L43.75,851.92 L44.50,852.36 L45.25,851.08 L46.00,849.52 L46.75,850.19 L47.50,850.66 L48.25,848.73 L49.00,847.26 L49.75,847.90 L50.50,850.09 L51.25,849.79 L52.00,849.54 L52.75,852.53 L53.50,851.51 L54.25,850.71 L55.00,852.14 L55.75,850.45 L56.50,851.68 L57.25,851.31 L58.00,851.80 L58.75,852.34 L59.50,851.29 L60.25,852.63 L61.00,851.85 L61.75,853.18 L62.50,853.96 L63.25,851.25 L64.00,851.29 L64.75,853.80 L65.50,854.48 L66.25,856.55 L67.00,855.46 L67.75,852.15 L68.50,848.71 L69.25,844.59 L70.00,836.86 L70.75,831.42 L71.50,824.41 L72.25,822.34 L73.00,819.16 L73.75,814.68 L74.50,813.78 L75.25,811.41 L76.00,810.88 L76.75,807.66 L77.50,800.83 L78.25,800.16 L79.00,798.56 L79.75,795.39 L80.50,794.45 L81.25,790.98 L82.00,791.27 L82.75,789.46 L83.50,783.83 L84.25,785.97 L85.00,785.04 L85.75,782.53 L86.50,779.42 L87.25,779.05 L88.00,777.37 L88.75,774.64 L89.50,773.22 L90.25,770.00 L91.00,769.47 L91.75,766.38 L92.50,768.05 L93.25,765.86 L94.00,764.09 L94.75,761.14 L95.50,760.12 L96.25,760.52 L97.00,757.21 L97.75,759.07 L98.50,756.73 L99.25,755.07 L100.00,758.99 L100.75,759.96 L101.50,758.48 L102.25,760.04 L103.00,758.87 L103.75,754.60 L104.50,753.63 L105.25,754.19 L106.00,755.82 L106.75,757.49 L107.50,754.18 L108.25,754.77 L109.00,759.35 L109.75,758.48 L110.50,760.36 L111.25,766.89 L112.00,767.58 L112.75,767.56 L113.50,767.59 L114.25,764.20 L115.00,765.69 L115.75,766.45 L116.50,762.47 L117.25,765.17 L118.00,764.92 L118.75,762.84 L119.50,764.24 L120.25,764.11 L121.00,762.17 L121.75,762.30" fill="none" stroke="#000" stroke-width="1.9" stroke-linejoin="round"/>
<path d="M43.00,849.57 L43.75,852.16 L44.50,855.23 L45.25,852.01 L46.00,853.43 L46.75,846.41 L47.50,849.58 L48.25,851.48 L49.00,851.91 L49.75,851.46 L50.50,853.31 L51.25,851.88 L52.00,849.39 L52.75,852.66 L53.50,851.56 L54.25,849.84 L55.00,851.51 L55.75,852.46 L56.50,853.65 L57.25,852.27 L58.00,851.86 L58.75,852.26 L59.50,852.82 L60.25,850.74 L61.00,855.22 L61.75,851.04 L62.50,850.83 L63.25,850.42 L64.00,851.99 L64.75,852.64 L65.50,851.78 L66.25,849.97 L67.00,851.24 L67.75,851.71 L68.50,847.38 L69.25,845.87 L70.00,842.81 L70.75,839.81 L71.50,836.79 L72.25,836.47 L73.00,831.50 L73.75,830.77 L74.50,830.02 L75.25,827.20 L76.00,827.56 L76.75,826.32 L77.50,824.72 L78.25,824.82 L79.00,820.65 L79.75,820.27 L80.50,821.27 L81.25,820.07 L82.00,816.10 L82.75,814.33 L83.50,813.71 L84.25,810.82 L85.00,813.04 L85.75,812.08 L86.50,808.50 L87.25,809.46 L88.00,806.69 L88.75,806.89 L89.50,805.76 L90.25,806.08 L91.00,807.35 L91.75,801.46 L92.50,801.00 L93.25,802.21 L94.00,803.57 L94.75,803.63 L95.50,802.34 L96.25,803.20 L97.00,800.75 L97.75,801.86 L98.50,801.18 L99.25,799.00 L100.00,797.95 L100.75,798.49 L101.50,795.74 L102.25,798.11 L103.00,794.40 L103.75,797.31 L104.50,796.29 L105.25,798.35 L106.00,797.35 L106.75,797.12 L107.50,798.21 L108.25,798.31 L109.00,801.32 L109.75,800.99 L110.50,802.14 L111.25,802.18 L112.00,799.75 L112.75,799.44 L113.50,802.38 L114.25,799.83 L115.00,798.92 L115.75,799.32 L116.50,798.49 L117.25,799.48 L118.00,800.83 L118.75,800.62 L119.50,798.74 L120.25,798.79 L121.00,800.08 L121.75,799.15" fill="none" stroke="#c4c4c4" stroke-width="2.2" stroke-linejoin="round"/>
<text x="257.60" y="693.31" font-size="9.2" font-weight="bold" text-anchor="middle" fill="#000" textLength="66.00" lengthAdjust="spacingAndGlyphs">5 mM Caffeine</text>
<text x="257.60" y="704.71" font-size="9.2" font-weight="bold" text-anchor="middle" fill="#000" textLength="87.00" lengthAdjust="spacingAndGlyphs">+ 50 µM Ryanodine</text>
<line x1="215.40" y1="710.80" x2="300.20" y2="710.80" stroke="#000" stroke-width="1.7" stroke-linecap="butt"/>
<text x="207.35" y="730.53" font-size="9.8" font-weight="bold" text-anchor="middle" fill="#000" textLength="23.70" lengthAdjust="spacingAndGlyphs">peak</text>
<text x="297.10" y="730.53" font-size="9.8" font-weight="bold" text-anchor="middle" fill="#000" textLength="72.20" lengthAdjust="spacingAndGlyphs">rate of change</text>
<line x1="172.60" y1="734.90" x2="175.80" y2="734.90" stroke="#000" stroke-width="1.2" stroke-linecap="butt"/>
<text x="169.20" y="738.36" font-size="9.6" font-weight="normal" text-anchor="end" fill="#222" textLength="14.70" lengthAdjust="spacingAndGlyphs">300</text>
<line x1="172.60" y1="756.40" x2="175.80" y2="756.40" stroke="#000" stroke-width="1.2" stroke-linecap="butt"/>
<text x="169.20" y="759.86" font-size="9.6" font-weight="normal" text-anchor="end" fill="#222" textLength="14.70" lengthAdjust="spacingAndGlyphs">250</text>
<line x1="172.60" y1="777.50" x2="175.80" y2="777.50" stroke="#000" stroke-width="1.2" stroke-linecap="butt"/>
<text x="169.20" y="780.96" font-size="9.6" font-weight="normal" text-anchor="end" fill="#222" textLength="14.70" lengthAdjust="spacingAndGlyphs">200</text>
<line x1="172.60" y1="799.00" x2="175.80" y2="799.00" stroke="#000" stroke-width="1.2" stroke-linecap="butt"/>
<text x="169.20" y="802.46" font-size="9.6" font-weight="normal" text-anchor="end" fill="#222" textLength="14.70" lengthAdjust="spacingAndGlyphs">150</text>
<line x1="172.60" y1="820.30" x2="175.80" y2="820.30" stroke="#000" stroke-width="1.2" stroke-linecap="butt"/>
<text x="169.20" y="823.76" font-size="9.6" font-weight="normal" text-anchor="end" fill="#222" textLength="14.70" lengthAdjust="spacingAndGlyphs">100</text>
<line x1="172.60" y1="841.60" x2="175.80" y2="841.60" stroke="#000" stroke-width="1.2" stroke-linecap="butt"/>
<text x="169.20" y="845.06" font-size="9.6" font-weight="normal" text-anchor="end" fill="#222" textLength="9.80" lengthAdjust="spacingAndGlyphs">50</text>
<line x1="172.60" y1="862.80" x2="175.80" y2="862.80" stroke="#000" stroke-width="1.2" stroke-linecap="butt"/>
<text x="169.20" y="866.26" font-size="9.6" font-weight="normal" text-anchor="end" fill="#222" textLength="4.90" lengthAdjust="spacingAndGlyphs">0</text>
<line x1="197.70" y1="743.70" x2="197.70" y2="757.00" stroke="#222" stroke-width="1.3" stroke-linecap="butt"/>
<line x1="194.20" y1="743.70" x2="201.20" y2="743.70" stroke="#222" stroke-width="1.3" stroke-linecap="butt"/>
<rect x="186.60" y="757.00" width="22.20" height="105.80" fill="#000"/>
<line x1="197.70" y1="862.80" x2="197.70" y2="866.00" stroke="#000" stroke-width="1.2" stroke-linecap="butt"/>
<line x1="233.60" y1="793.20" x2="233.60" y2="800.00" stroke="#222" stroke-width="1.3" stroke-linecap="butt"/>
<line x1="230.10" y1="793.20" x2="237.10" y2="793.20" stroke="#222" stroke-width="1.3" stroke-linecap="butt"/>
<rect x="223.20" y="800.50" width="20.80" height="62.30" fill="#bfbfbf" stroke="#111" stroke-width="1"/>
<text x="233.60" y="792.98" font-size="13" font-weight="bold" text-anchor="middle" fill="#000">*</text>
<line x1="233.60" y1="862.80" x2="233.60" y2="866.00" stroke="#000" stroke-width="1.2" stroke-linecap="butt"/>
<line x1="175.80" y1="734.90" x2="175.80" y2="863.60" stroke="#000" stroke-width="1.6" stroke-linecap="butt"/>
<line x1="175.00" y1="862.80" x2="255.70" y2="862.80" stroke="#000" stroke-width="1.6" stroke-linecap="butt"/>
<line x1="344.40" y1="735.10" x2="347.40" y2="735.10" stroke="#000" stroke-width="1.2" stroke-linecap="butt"/>
<text x="350.60" y="738.56" font-size="9.6" font-weight="normal" text-anchor="start" fill="#222" textLength="9.80" lengthAdjust="spacingAndGlyphs">12</text>
<line x1="344.40" y1="756.00" x2="347.40" y2="756.00" stroke="#000" stroke-width="1.2" stroke-linecap="butt"/>
<text x="350.60" y="759.46" font-size="9.6" font-weight="normal" text-anchor="start" fill="#222" textLength="9.80" lengthAdjust="spacingAndGlyphs">10</text>
<line x1="344.40" y1="777.20" x2="347.40" y2="777.20" stroke="#000" stroke-width="1.2" stroke-linecap="butt"/>
<text x="350.60" y="780.66" font-size="9.6" font-weight="normal" text-anchor="start" fill="#222" textLength="4.90" lengthAdjust="spacingAndGlyphs">8</text>
<line x1="344.40" y1="798.90" x2="347.40" y2="798.90" stroke="#000" stroke-width="1.2" stroke-linecap="butt"/>
<text x="350.60" y="802.36" font-size="9.6" font-weight="normal" text-anchor="start" fill="#222" textLength="4.90" lengthAdjust="spacingAndGlyphs">6</text>
<line x1="344.40" y1="820.30" x2="347.40" y2="820.30" stroke="#000" stroke-width="1.2" stroke-linecap="butt"/>
<text x="350.60" y="823.76" font-size="9.6" font-weight="normal" text-anchor="start" fill="#222" textLength="4.90" lengthAdjust="spacingAndGlyphs">4</text>
<line x1="344.40" y1="841.80" x2="347.40" y2="841.80" stroke="#000" stroke-width="1.2" stroke-linecap="butt"/>
<text x="350.60" y="845.26" font-size="9.6" font-weight="normal" text-anchor="start" fill="#222" textLength="4.90" lengthAdjust="spacingAndGlyphs">2</text>
<line x1="344.40" y1="863.00" x2="347.40" y2="863.00" stroke="#000" stroke-width="1.2" stroke-linecap="butt"/>
<text x="350.60" y="866.46" font-size="9.6" font-weight="normal" text-anchor="start" fill="#222" textLength="4.90" lengthAdjust="spacingAndGlyphs">0</text>
<line x1="286.30" y1="744.00" x2="286.30" y2="764.00" stroke="#222" stroke-width="1.3" stroke-linecap="butt"/>
<line x1="282.80" y1="744.00" x2="289.80" y2="744.00" stroke="#222" stroke-width="1.3" stroke-linecap="butt"/>
<rect x="275.10" y="764.00" width="22.40" height="98.80" fill="#000"/>
<line x1="286.30" y1="862.80" x2="286.30" y2="866.00" stroke="#000" stroke-width="1.2" stroke-linecap="butt"/>
<line x1="322.40" y1="812.30" x2="322.40" y2="821.30" stroke="#222" stroke-width="1.3" stroke-linecap="butt"/>
<line x1="318.90" y1="812.30" x2="325.90" y2="812.30" stroke="#222" stroke-width="1.3" stroke-linecap="butt"/>
<rect x="311.80" y="821.80" width="21.20" height="41.00" fill="#bfbfbf" stroke="#111" stroke-width="1"/>
<text x="322.40" y="809.18" font-size="13" font-weight="bold" text-anchor="middle" fill="#000">*</text>
<line x1="322.40" y1="862.80" x2="322.40" y2="866.00" stroke="#000" stroke-width="1.2" stroke-linecap="butt"/>
<line x1="344.40" y1="735.10" x2="344.40" y2="863.60" stroke="#000" stroke-width="1.6" stroke-linecap="butt"/>
<line x1="264.30" y1="862.80" x2="345.20" y2="862.80" stroke="#000" stroke-width="1.6" stroke-linecap="butt"/>
<text x="194.20" y="877.60" font-size="10" font-weight="bold" text-anchor="middle" fill="#000" textLength="18.60" lengthAdjust="spacingAndGlyphs">Ctrl</text>
<text x="194.20" y="892.30" font-size="10" font-weight="bold" text-anchor="middle" fill="#000" textLength="32.41" lengthAdjust="spacingAndGlyphs">siRNA</text>
<text x="233.50" y="877.60" font-size="10" font-weight="bold" text-anchor="middle" fill="#000" textLength="27.62" lengthAdjust="spacingAndGlyphs">Orai1</text>
<text x="233.50" y="892.30" font-size="10" font-weight="bold" text-anchor="middle" fill="#000" textLength="32.41" lengthAdjust="spacingAndGlyphs">siRNA</text>
<text x="284.20" y="877.60" font-size="10" font-weight="bold" text-anchor="middle" fill="#000" textLength="18.60" lengthAdjust="spacingAndGlyphs">Ctrl</text>
<text x="284.20" y="892.30" font-size="10" font-weight="bold" text-anchor="middle" fill="#000" textLength="32.41" lengthAdjust="spacingAndGlyphs">siRNA</text>
<text x="323.10" y="877.60" font-size="10" font-weight="bold" text-anchor="middle" fill="#000" textLength="27.62" lengthAdjust="spacingAndGlyphs">Orai1</text>
<text x="323.10" y="892.30" font-size="10" font-weight="bold" text-anchor="middle" fill="#000" textLength="32.41" lengthAdjust="spacingAndGlyphs">siRNA</text>
<g transform="translate(146.90 798.35) rotate(-90)"><text x="0" y="0" font-size="10.8" text-anchor="middle" textLength="63.20" lengthAdjust="spacingAndGlyphs" fill="#111">Δ [Ca<tspan dy="-6.6" font-size="7.0">2+</tspan><tspan dy="6.6">]</tspan><tspan dy="2.2" font-size="6.4">i</tspan><tspan dy="-2.2"> (nM)</tspan></text></g>
<g transform="translate(380.00 798.95) rotate(-90)"><text x="0" y="0" font-size="10.0" text-anchor="middle" textLength="169.00" lengthAdjust="spacingAndGlyphs" fill="#111">Max rate of change in [Ca<tspan dy="-6.4" font-size="6.8">2+</tspan><tspan dy="6.4">]</tspan><tspan dy="2.2" font-size="6.4">i</tspan><tspan dy="-2.2"> (nM/s)</tspan></text></g>
</svg></body></html>
